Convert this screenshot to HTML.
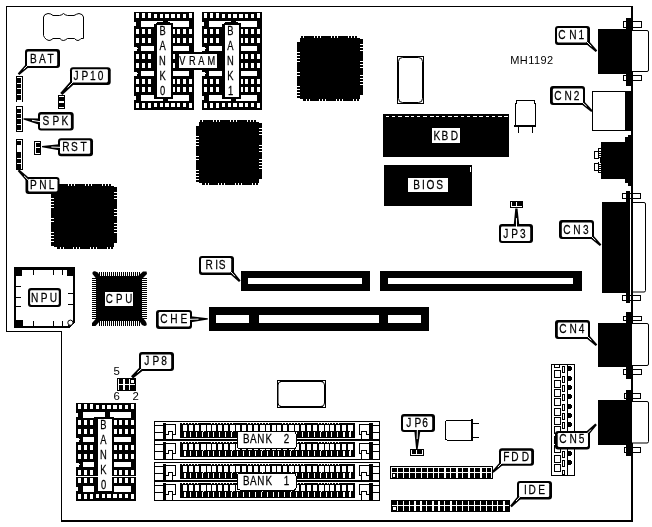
<!DOCTYPE html>
<html><head><meta charset="utf-8"><title>MH1192 motherboard layout</title>
<style>html,body{margin:0;padding:0;background:#fff}body{width:652px;height:527px;overflow:hidden}svg{display:block;will-change:transform}text{font-family:"Liberation Sans",sans-serif}</style></head><body>
<svg width="652" height="527" viewBox="0 0 652 527" shape-rendering="crispEdges">
<rect x="0" y="0" width="652" height="527" fill="#fff"/>
<rect x="6" y="6" width="627" height="1" fill="#000"/>
<rect x="6" y="6" width="1" height="326" fill="#000"/>
<rect x="6" y="331" width="56" height="1" fill="#000"/>
<rect x="61" y="331" width="1" height="191" fill="#000"/>
<rect x="61" y="520" width="572" height="2" fill="#000"/>
<rect x="631" y="6" width="2" height="516" fill="#000"/>
<path d="M43.5,17 Q44,14 48,13.5 Q51,13.5 53,15.5 L59.5,15.5 Q62,15 63.5,13.5 Q65,15 67.5,15.5 L74,15.5 Q76.5,14 79,13.5 Q83,14 83.5,17 L83.5,38.5 L81,38.5 Q79.5,40.5 78,40.5 Q76,40.5 74.5,38.5 L67.5,38.5 Q65,40.5 63.3,40.5 Q61.5,40.5 60,38.5 L53,38.5 Q51,40.5 49,40.5 Q46,40 44.5,37.5 L43.5,35.5 Z" fill="none" stroke="#000" stroke-width="1" shape-rendering="auto"/>
<rect x="16" y="76" width="7" height="26" fill="#000"/>
<rect x="21" y="77" width="1" height="24" fill="#fff"/>
<rect x="17" y="77" width="5" height="1" fill="#fff"/>
<rect x="17" y="82.5" width="5" height="1" fill="#fff"/>
<rect x="17" y="88" width="5" height="1" fill="#fff"/>
<rect x="17" y="94" width="5" height="1" fill="#fff"/>
<rect x="17" y="99.5" width="5" height="1" fill="#fff"/>
<rect x="17" y="100.5" width="5" height="1" fill="#fff"/>
<rect x="16" y="106" width="7" height="26" fill="#000"/>
<rect x="21" y="107" width="1" height="24" fill="#fff"/>
<rect x="17" y="107" width="5" height="1" fill="#fff"/>
<rect x="17" y="107.5" width="5" height="1" fill="#fff"/>
<rect x="17" y="113" width="5" height="1" fill="#fff"/>
<rect x="17" y="118" width="5" height="1" fill="#fff"/>
<rect x="17" y="124" width="5" height="1" fill="#fff"/>
<rect x="17" y="129.5" width="5" height="1" fill="#fff"/>
<rect x="17" y="130" width="5" height="1" fill="#fff"/>
<rect x="16" y="139" width="7" height="31" fill="#000"/>
<rect x="21" y="140" width="1" height="29" fill="#fff"/>
<rect x="17" y="140" width="5" height="1" fill="#fff"/>
<rect x="17" y="157.5" width="5" height="1" fill="#fff"/>
<rect x="17" y="163" width="5" height="1" fill="#fff"/>
<rect x="17" y="145" width="5" height="7.3" fill="#fff"/>
<rect x="17" y="168.8" width="5" height="0.2" fill="#fff"/>
<rect x="58" y="95" width="7" height="14" fill="#000"/>
<rect x="59" y="96" width="5" height="1" fill="#fff"/>
<rect x="59" y="101" width="5" height="2" fill="#fff"/>
<rect x="59" y="107" width="5" height="1" fill="#fff"/>
<rect x="34" y="141" width="7" height="14" fill="#000"/>
<rect x="35" y="142" width="1" height="12" fill="#fff"/>
<rect x="35" y="142" width="5" height="1" fill="#fff"/>
<rect x="35" y="147" width="5" height="1" fill="#fff"/>
<rect x="35" y="153" width="5" height="1" fill="#fff"/>
<rect x="134" y="12" width="60" height="98" fill="#000"/>
<rect x="136" y="13" width="3" height="5" fill="#fff"/>
<rect x="142" y="13" width="3" height="5" fill="#fff"/>
<rect x="148" y="13" width="3" height="5" fill="#fff"/>
<rect x="154" y="14" width="3" height="4" fill="#fff"/>
<rect x="160" y="14" width="3" height="4" fill="#fff"/>
<rect x="165" y="14" width="4" height="4" fill="#fff"/>
<rect x="171" y="14" width="4" height="4" fill="#fff"/>
<rect x="177" y="14" width="3" height="4" fill="#fff"/>
<rect x="183" y="14" width="3" height="4" fill="#fff"/>
<rect x="189" y="13" width="3" height="5" fill="#fff"/>
<rect x="136" y="29" width="3" height="5" fill="#fff"/>
<rect x="142" y="29" width="3" height="5" fill="#fff"/>
<rect x="148" y="29" width="3" height="5" fill="#fff"/>
<rect x="154" y="29" width="3" height="5" fill="#fff"/>
<rect x="160" y="29" width="3" height="5" fill="#fff"/>
<rect x="165" y="29" width="4" height="5" fill="#fff"/>
<rect x="171" y="29" width="4" height="5" fill="#fff"/>
<rect x="177" y="29" width="3" height="5" fill="#fff"/>
<rect x="183" y="29" width="3" height="5" fill="#fff"/>
<rect x="189" y="29" width="3" height="5" fill="#fff"/>
<rect x="136" y="38" width="3" height="5" fill="#fff"/>
<rect x="142" y="38" width="3" height="5" fill="#fff"/>
<rect x="148" y="38" width="3" height="5" fill="#fff"/>
<rect x="154" y="38" width="3" height="5" fill="#fff"/>
<rect x="160" y="38" width="3" height="5" fill="#fff"/>
<rect x="165" y="38" width="4" height="5" fill="#fff"/>
<rect x="171" y="38" width="4" height="5" fill="#fff"/>
<rect x="177" y="38" width="3" height="5" fill="#fff"/>
<rect x="183" y="38" width="3" height="5" fill="#fff"/>
<rect x="189" y="38" width="3" height="5" fill="#fff"/>
<rect x="136" y="54" width="3" height="5" fill="#fff"/>
<rect x="142" y="54" width="3" height="5" fill="#fff"/>
<rect x="148" y="54" width="3" height="5" fill="#fff"/>
<rect x="154" y="54" width="3" height="5" fill="#fff"/>
<rect x="160" y="54" width="3" height="5" fill="#fff"/>
<rect x="165" y="54" width="4" height="5" fill="#fff"/>
<rect x="171" y="54" width="4" height="5" fill="#fff"/>
<rect x="177" y="54" width="3" height="5" fill="#fff"/>
<rect x="183" y="54" width="3" height="5" fill="#fff"/>
<rect x="189" y="54" width="3" height="5" fill="#fff"/>
<rect x="136" y="63" width="3" height="5" fill="#fff"/>
<rect x="142" y="63" width="3" height="5" fill="#fff"/>
<rect x="148" y="63" width="3" height="5" fill="#fff"/>
<rect x="154" y="63" width="3" height="5" fill="#fff"/>
<rect x="160" y="63" width="3" height="5" fill="#fff"/>
<rect x="165" y="63" width="4" height="5" fill="#fff"/>
<rect x="171" y="63" width="4" height="5" fill="#fff"/>
<rect x="177" y="63" width="3" height="5" fill="#fff"/>
<rect x="183" y="63" width="3" height="5" fill="#fff"/>
<rect x="189" y="63" width="3" height="5" fill="#fff"/>
<rect x="136" y="79" width="3" height="5" fill="#fff"/>
<rect x="142" y="79" width="3" height="5" fill="#fff"/>
<rect x="148" y="79" width="3" height="5" fill="#fff"/>
<rect x="154" y="79" width="3" height="5" fill="#fff"/>
<rect x="160" y="79" width="3" height="5" fill="#fff"/>
<rect x="165" y="79" width="4" height="5" fill="#fff"/>
<rect x="171" y="79" width="4" height="5" fill="#fff"/>
<rect x="177" y="79" width="3" height="5" fill="#fff"/>
<rect x="183" y="79" width="3" height="5" fill="#fff"/>
<rect x="189" y="79" width="3" height="5" fill="#fff"/>
<rect x="136" y="87" width="3" height="5" fill="#fff"/>
<rect x="142" y="87" width="3" height="5" fill="#fff"/>
<rect x="148" y="87" width="3" height="5" fill="#fff"/>
<rect x="154" y="87" width="3" height="5" fill="#fff"/>
<rect x="160" y="87" width="3" height="5" fill="#fff"/>
<rect x="165" y="87" width="4" height="5" fill="#fff"/>
<rect x="171" y="87" width="4" height="5" fill="#fff"/>
<rect x="177" y="87" width="3" height="5" fill="#fff"/>
<rect x="183" y="87" width="3" height="5" fill="#fff"/>
<rect x="189" y="87" width="3" height="5" fill="#fff"/>
<rect x="136" y="103" width="3" height="5" fill="#fff"/>
<rect x="142" y="103" width="3" height="5" fill="#fff"/>
<rect x="148" y="103" width="3" height="5" fill="#fff"/>
<rect x="154" y="103" width="3" height="4" fill="#fff"/>
<rect x="160" y="103" width="3" height="4" fill="#fff"/>
<rect x="165" y="103" width="4" height="4" fill="#fff"/>
<rect x="171" y="103" width="4" height="4" fill="#fff"/>
<rect x="177" y="103" width="3" height="4" fill="#fff"/>
<rect x="183" y="103" width="3" height="4" fill="#fff"/>
<rect x="189" y="103" width="3" height="5" fill="#fff"/>
<rect x="141" y="21" width="48" height="6" fill="#fff"/>
<rect x="134" y="22" width="2" height="4" fill="#fff"/>
<rect x="141" y="46" width="48" height="5" fill="#fff"/>
<polygon points="134,46.5 136.5,46.5 137.5,48.5 136.5,50.5 134,50.5" fill="#fff"/>
<rect x="141" y="71" width="48" height="5" fill="#fff"/>
<polygon points="134,71.5 136.5,71.5 137.5,73.5 136.5,75.5 134,75.5" fill="#fff"/>
<rect x="141" y="95" width="48" height="5.6" fill="#fff"/>
<rect x="134" y="96" width="2" height="4" fill="#fff"/>
<rect x="154" y="24" width="19" height="74.5" fill="#000"/>
<rect x="155.5" y="23" width="17" height="1" fill="#000"/>
<rect x="157" y="22" width="13" height="1" fill="#000"/>
<rect x="163" y="20" width="5" height="5" fill="#000"/>
<rect x="162.7" y="97" width="5.4" height="6" fill="#000"/>
<polygon points="154,95 154,98.5 156,98.5" fill="#000" shape-rendering="auto"/>
<rect x="157" y="25" width="14" height="72" fill="#fff"/>
<text transform="scale(0.75,1)" x="216.67 216.67 216.67 216.67 216.67" y="34.9 50 65.1 80.2 95.3" font-size="12.5" fill="#000" stroke="#000" stroke-width="0.25" text-anchor="middle">BANK0</text>
<rect x="202" y="12" width="60" height="98" fill="#000"/>
<rect x="204" y="13" width="3" height="5" fill="#fff"/>
<rect x="210" y="13" width="3" height="5" fill="#fff"/>
<rect x="216" y="13" width="3" height="5" fill="#fff"/>
<rect x="222" y="14" width="3" height="4" fill="#fff"/>
<rect x="228" y="14" width="3" height="4" fill="#fff"/>
<rect x="233" y="14" width="4" height="4" fill="#fff"/>
<rect x="239" y="14" width="4" height="4" fill="#fff"/>
<rect x="245" y="14" width="3" height="4" fill="#fff"/>
<rect x="251" y="14" width="3" height="4" fill="#fff"/>
<rect x="257" y="13" width="3" height="5" fill="#fff"/>
<rect x="204" y="29" width="3" height="5" fill="#fff"/>
<rect x="210" y="29" width="3" height="5" fill="#fff"/>
<rect x="216" y="29" width="3" height="5" fill="#fff"/>
<rect x="222" y="29" width="3" height="5" fill="#fff"/>
<rect x="228" y="29" width="3" height="5" fill="#fff"/>
<rect x="233" y="29" width="4" height="5" fill="#fff"/>
<rect x="239" y="29" width="4" height="5" fill="#fff"/>
<rect x="245" y="29" width="3" height="5" fill="#fff"/>
<rect x="251" y="29" width="3" height="5" fill="#fff"/>
<rect x="257" y="29" width="3" height="5" fill="#fff"/>
<rect x="204" y="38" width="3" height="5" fill="#fff"/>
<rect x="210" y="38" width="3" height="5" fill="#fff"/>
<rect x="216" y="38" width="3" height="5" fill="#fff"/>
<rect x="222" y="38" width="3" height="5" fill="#fff"/>
<rect x="228" y="38" width="3" height="5" fill="#fff"/>
<rect x="233" y="38" width="4" height="5" fill="#fff"/>
<rect x="239" y="38" width="4" height="5" fill="#fff"/>
<rect x="245" y="38" width="3" height="5" fill="#fff"/>
<rect x="251" y="38" width="3" height="5" fill="#fff"/>
<rect x="257" y="38" width="3" height="5" fill="#fff"/>
<rect x="204" y="54" width="3" height="5" fill="#fff"/>
<rect x="210" y="54" width="3" height="5" fill="#fff"/>
<rect x="216" y="54" width="3" height="5" fill="#fff"/>
<rect x="222" y="54" width="3" height="5" fill="#fff"/>
<rect x="228" y="54" width="3" height="5" fill="#fff"/>
<rect x="233" y="54" width="4" height="5" fill="#fff"/>
<rect x="239" y="54" width="4" height="5" fill="#fff"/>
<rect x="245" y="54" width="3" height="5" fill="#fff"/>
<rect x="251" y="54" width="3" height="5" fill="#fff"/>
<rect x="257" y="54" width="3" height="5" fill="#fff"/>
<rect x="204" y="63" width="3" height="5" fill="#fff"/>
<rect x="210" y="63" width="3" height="5" fill="#fff"/>
<rect x="216" y="63" width="3" height="5" fill="#fff"/>
<rect x="222" y="63" width="3" height="5" fill="#fff"/>
<rect x="228" y="63" width="3" height="5" fill="#fff"/>
<rect x="233" y="63" width="4" height="5" fill="#fff"/>
<rect x="239" y="63" width="4" height="5" fill="#fff"/>
<rect x="245" y="63" width="3" height="5" fill="#fff"/>
<rect x="251" y="63" width="3" height="5" fill="#fff"/>
<rect x="257" y="63" width="3" height="5" fill="#fff"/>
<rect x="204" y="79" width="3" height="5" fill="#fff"/>
<rect x="210" y="79" width="3" height="5" fill="#fff"/>
<rect x="216" y="79" width="3" height="5" fill="#fff"/>
<rect x="222" y="79" width="3" height="5" fill="#fff"/>
<rect x="228" y="79" width="3" height="5" fill="#fff"/>
<rect x="233" y="79" width="4" height="5" fill="#fff"/>
<rect x="239" y="79" width="4" height="5" fill="#fff"/>
<rect x="245" y="79" width="3" height="5" fill="#fff"/>
<rect x="251" y="79" width="3" height="5" fill="#fff"/>
<rect x="257" y="79" width="3" height="5" fill="#fff"/>
<rect x="204" y="87" width="3" height="5" fill="#fff"/>
<rect x="210" y="87" width="3" height="5" fill="#fff"/>
<rect x="216" y="87" width="3" height="5" fill="#fff"/>
<rect x="222" y="87" width="3" height="5" fill="#fff"/>
<rect x="228" y="87" width="3" height="5" fill="#fff"/>
<rect x="233" y="87" width="4" height="5" fill="#fff"/>
<rect x="239" y="87" width="4" height="5" fill="#fff"/>
<rect x="245" y="87" width="3" height="5" fill="#fff"/>
<rect x="251" y="87" width="3" height="5" fill="#fff"/>
<rect x="257" y="87" width="3" height="5" fill="#fff"/>
<rect x="204" y="103" width="3" height="5" fill="#fff"/>
<rect x="210" y="103" width="3" height="5" fill="#fff"/>
<rect x="216" y="103" width="3" height="5" fill="#fff"/>
<rect x="222" y="103" width="3" height="4" fill="#fff"/>
<rect x="228" y="103" width="3" height="4" fill="#fff"/>
<rect x="233" y="103" width="4" height="4" fill="#fff"/>
<rect x="239" y="103" width="4" height="4" fill="#fff"/>
<rect x="245" y="103" width="3" height="4" fill="#fff"/>
<rect x="251" y="103" width="3" height="4" fill="#fff"/>
<rect x="257" y="103" width="3" height="5" fill="#fff"/>
<rect x="209" y="21" width="48" height="6" fill="#fff"/>
<rect x="202" y="22" width="2" height="4" fill="#fff"/>
<rect x="209" y="46" width="48" height="5" fill="#fff"/>
<polygon points="202,46.5 204.5,46.5 205.5,48.5 204.5,50.5 202,50.5" fill="#fff"/>
<rect x="209" y="71" width="48" height="5" fill="#fff"/>
<polygon points="202,71.5 204.5,71.5 205.5,73.5 204.5,75.5 202,75.5" fill="#fff"/>
<rect x="209" y="95" width="48" height="5.6" fill="#fff"/>
<rect x="202" y="96" width="2" height="4" fill="#fff"/>
<rect x="222" y="24" width="19" height="74.5" fill="#000"/>
<rect x="223.5" y="23" width="17" height="1" fill="#000"/>
<rect x="225" y="22" width="13" height="1" fill="#000"/>
<rect x="231" y="20" width="5" height="5" fill="#000"/>
<rect x="230.7" y="97" width="5.4" height="6" fill="#000"/>
<polygon points="222,95 222,98.5 224,98.5" fill="#000" shape-rendering="auto"/>
<rect x="225" y="25" width="14" height="72" fill="#fff"/>
<text transform="scale(0.75,1)" x="307.33 307.33 307.33 307.33 307.33" y="34.9 50 65.1 80.2 95.3" font-size="12.5" fill="#000" stroke="#000" stroke-width="0.25" text-anchor="middle">BANK1</text>
<rect x="189" y="52" width="18" height="18" fill="#000"/>
<rect x="177" y="54" width="43" height="14" fill="#000"/>
<rect x="179" y="54" width="38" height="14" fill="#fff"/>
<polygon points="202,46.5 204.5,46.5 205.5,48.5 204.5,50.5 202,50.5" fill="#fff"/>
<polygon points="202,71.5 204.5,71.5 205.5,73.5 204.5,75.5 202,75.5" fill="#fff"/>
<text transform="scale(0.74,1)" x="246.49 260.00 272.16 285.54" y="65" font-size="12.5" fill="#000" stroke="#000" stroke-width="0.25" text-anchor="middle">VRAM</text>
<rect x="76" y="403" width="60" height="98" fill="#000"/>
<rect x="78" y="404" width="3" height="5" fill="#fff"/>
<rect x="84" y="404" width="3" height="5" fill="#fff"/>
<rect x="90" y="404" width="3" height="5" fill="#fff"/>
<rect x="96" y="405" width="3" height="4" fill="#fff"/>
<rect x="102" y="405" width="3" height="4" fill="#fff"/>
<rect x="107" y="405" width="4" height="4" fill="#fff"/>
<rect x="113" y="405" width="4" height="4" fill="#fff"/>
<rect x="119" y="405" width="3" height="4" fill="#fff"/>
<rect x="125" y="405" width="3" height="4" fill="#fff"/>
<rect x="131" y="404" width="3" height="5" fill="#fff"/>
<rect x="78" y="420" width="3" height="5" fill="#fff"/>
<rect x="84" y="420" width="3" height="5" fill="#fff"/>
<rect x="90" y="420" width="3" height="5" fill="#fff"/>
<rect x="96" y="420" width="3" height="5" fill="#fff"/>
<rect x="102" y="420" width="3" height="5" fill="#fff"/>
<rect x="107" y="420" width="4" height="5" fill="#fff"/>
<rect x="113" y="420" width="4" height="5" fill="#fff"/>
<rect x="119" y="420" width="3" height="5" fill="#fff"/>
<rect x="125" y="420" width="3" height="5" fill="#fff"/>
<rect x="131" y="420" width="3" height="5" fill="#fff"/>
<rect x="78" y="429" width="3" height="5" fill="#fff"/>
<rect x="84" y="429" width="3" height="5" fill="#fff"/>
<rect x="90" y="429" width="3" height="5" fill="#fff"/>
<rect x="96" y="429" width="3" height="5" fill="#fff"/>
<rect x="102" y="429" width="3" height="5" fill="#fff"/>
<rect x="107" y="429" width="4" height="5" fill="#fff"/>
<rect x="113" y="429" width="4" height="5" fill="#fff"/>
<rect x="119" y="429" width="3" height="5" fill="#fff"/>
<rect x="125" y="429" width="3" height="5" fill="#fff"/>
<rect x="131" y="429" width="3" height="5" fill="#fff"/>
<rect x="78" y="445" width="3" height="5" fill="#fff"/>
<rect x="84" y="445" width="3" height="5" fill="#fff"/>
<rect x="90" y="445" width="3" height="5" fill="#fff"/>
<rect x="96" y="445" width="3" height="5" fill="#fff"/>
<rect x="102" y="445" width="3" height="5" fill="#fff"/>
<rect x="107" y="445" width="4" height="5" fill="#fff"/>
<rect x="113" y="445" width="4" height="5" fill="#fff"/>
<rect x="119" y="445" width="3" height="5" fill="#fff"/>
<rect x="125" y="445" width="3" height="5" fill="#fff"/>
<rect x="131" y="445" width="3" height="5" fill="#fff"/>
<rect x="78" y="454" width="3" height="5" fill="#fff"/>
<rect x="84" y="454" width="3" height="5" fill="#fff"/>
<rect x="90" y="454" width="3" height="5" fill="#fff"/>
<rect x="96" y="454" width="3" height="5" fill="#fff"/>
<rect x="102" y="454" width="3" height="5" fill="#fff"/>
<rect x="107" y="454" width="4" height="5" fill="#fff"/>
<rect x="113" y="454" width="4" height="5" fill="#fff"/>
<rect x="119" y="454" width="3" height="5" fill="#fff"/>
<rect x="125" y="454" width="3" height="5" fill="#fff"/>
<rect x="131" y="454" width="3" height="5" fill="#fff"/>
<rect x="78" y="470" width="3" height="5" fill="#fff"/>
<rect x="84" y="470" width="3" height="5" fill="#fff"/>
<rect x="90" y="470" width="3" height="5" fill="#fff"/>
<rect x="96" y="470" width="3" height="5" fill="#fff"/>
<rect x="102" y="470" width="3" height="5" fill="#fff"/>
<rect x="107" y="470" width="4" height="5" fill="#fff"/>
<rect x="113" y="470" width="4" height="5" fill="#fff"/>
<rect x="119" y="470" width="3" height="5" fill="#fff"/>
<rect x="125" y="470" width="3" height="5" fill="#fff"/>
<rect x="131" y="470" width="3" height="5" fill="#fff"/>
<rect x="78" y="478" width="3" height="5" fill="#fff"/>
<rect x="84" y="478" width="3" height="5" fill="#fff"/>
<rect x="90" y="478" width="3" height="5" fill="#fff"/>
<rect x="96" y="478" width="3" height="5" fill="#fff"/>
<rect x="102" y="478" width="3" height="5" fill="#fff"/>
<rect x="107" y="478" width="4" height="5" fill="#fff"/>
<rect x="113" y="478" width="4" height="5" fill="#fff"/>
<rect x="119" y="478" width="3" height="5" fill="#fff"/>
<rect x="125" y="478" width="3" height="5" fill="#fff"/>
<rect x="131" y="478" width="3" height="5" fill="#fff"/>
<rect x="78" y="494" width="3" height="5" fill="#fff"/>
<rect x="84" y="494" width="3" height="5" fill="#fff"/>
<rect x="90" y="494" width="3" height="5" fill="#fff"/>
<rect x="96" y="494" width="3" height="4" fill="#fff"/>
<rect x="102" y="494" width="3" height="4" fill="#fff"/>
<rect x="107" y="494" width="4" height="4" fill="#fff"/>
<rect x="113" y="494" width="4" height="4" fill="#fff"/>
<rect x="119" y="494" width="3" height="4" fill="#fff"/>
<rect x="125" y="494" width="3" height="4" fill="#fff"/>
<rect x="131" y="494" width="3" height="5" fill="#fff"/>
<rect x="83" y="412" width="48" height="6" fill="#fff"/>
<rect x="76" y="413" width="2" height="4" fill="#fff"/>
<rect x="83" y="437" width="48" height="5" fill="#fff"/>
<polygon points="76,437.5 78.5,437.5 79.5,439.5 78.5,441.5 76,441.5" fill="#fff"/>
<rect x="83" y="462" width="48" height="5" fill="#fff"/>
<polygon points="76,462.5 78.5,462.5 79.5,464.5 78.5,466.5 76,466.5" fill="#fff"/>
<rect x="83" y="486" width="48" height="5.6" fill="#fff"/>
<rect x="76" y="487" width="2" height="4" fill="#fff"/>
<rect x="94" y="417" width="20" height="76" fill="#000"/>
<rect x="105" y="411" width="5" height="8" fill="#000"/>
<rect x="98" y="419" width="14" height="72" fill="#fff"/>
<text transform="scale(0.75,1)" x="138.00 138.00 138.00 138.00 138.00" y="429 444.1 458.9 473.7 489" font-size="12.5" fill="#000" stroke="#000" stroke-width="0.25" text-anchor="middle">BANK0</text>
<rect x="76" y="476" width="22" height="1" fill="#fff"/>
<rect x="112" y="476" width="24" height="1" fill="#fff"/>
<rect x="300" y="38" width="60" height="61" fill="#000"/>
<rect x="301" y="36" width="56" height="2" fill="#000"/>
<rect x="303" y="99" width="56" height="2" fill="#000"/>
<rect x="297" y="42" width="3" height="56" fill="#000"/>
<rect x="360" y="39" width="3" height="56" fill="#000"/>
<rect x="303" y="36" width="1" height="2" fill="#fff"/>
<rect x="314" y="36" width="1" height="2" fill="#fff"/>
<rect x="317" y="36" width="1" height="2" fill="#fff"/>
<rect x="320" y="36" width="1" height="2" fill="#fff"/>
<rect x="331" y="36" width="1" height="2" fill="#fff"/>
<rect x="334" y="36" width="1" height="2" fill="#fff"/>
<rect x="337" y="36" width="1" height="2" fill="#fff"/>
<rect x="348" y="36" width="1" height="2" fill="#fff"/>
<rect x="351" y="36" width="1" height="2" fill="#fff"/>
<rect x="354" y="36" width="1" height="2" fill="#fff"/>
<rect x="306" y="99" width="1" height="2" fill="#fff"/>
<rect x="309" y="99" width="1" height="2" fill="#fff"/>
<rect x="319" y="99" width="1" height="2" fill="#fff"/>
<rect x="322" y="99" width="1" height="2" fill="#fff"/>
<rect x="325" y="99" width="1" height="2" fill="#fff"/>
<rect x="336" y="99" width="1" height="2" fill="#fff"/>
<rect x="339" y="99" width="1" height="2" fill="#fff"/>
<rect x="342" y="99" width="1" height="2" fill="#fff"/>
<rect x="353" y="99" width="1" height="2" fill="#fff"/>
<rect x="356" y="99" width="1" height="2" fill="#fff"/>
<rect x="297" y="52" width="3" height="1" fill="#fff"/>
<rect x="297" y="55" width="3" height="1" fill="#fff"/>
<rect x="297" y="58" width="3" height="1" fill="#fff"/>
<rect x="297" y="61" width="3" height="1" fill="#fff"/>
<rect x="297" y="72" width="3" height="1" fill="#fff"/>
<rect x="297" y="75" width="3" height="1" fill="#fff"/>
<rect x="297" y="86" width="3" height="1" fill="#fff"/>
<rect x="297" y="89" width="3" height="1" fill="#fff"/>
<rect x="297" y="92" width="3" height="1" fill="#fff"/>
<rect x="297" y="95" width="3" height="1" fill="#fff"/>
<rect x="360" y="44" width="3" height="1" fill="#fff"/>
<rect x="360" y="47" width="3" height="1" fill="#fff"/>
<rect x="360" y="50" width="3" height="1" fill="#fff"/>
<rect x="360" y="61" width="3" height="1" fill="#fff"/>
<rect x="360" y="64" width="3" height="1" fill="#fff"/>
<rect x="360" y="67" width="3" height="1" fill="#fff"/>
<rect x="360" y="75" width="3" height="1" fill="#fff"/>
<rect x="360" y="78" width="3" height="1" fill="#fff"/>
<rect x="360" y="81" width="3" height="1" fill="#fff"/>
<rect x="360" y="84" width="3" height="1" fill="#fff"/>
<rect x="199" y="122" width="60" height="61" fill="#000"/>
<rect x="200" y="120" width="56" height="2" fill="#000"/>
<rect x="202" y="183" width="56" height="2" fill="#000"/>
<rect x="196" y="126" width="3" height="56" fill="#000"/>
<rect x="259" y="123" width="3" height="56" fill="#000"/>
<rect x="202" y="120" width="1" height="2" fill="#fff"/>
<rect x="213" y="120" width="1" height="2" fill="#fff"/>
<rect x="216" y="120" width="1" height="2" fill="#fff"/>
<rect x="219" y="120" width="1" height="2" fill="#fff"/>
<rect x="230" y="120" width="1" height="2" fill="#fff"/>
<rect x="233" y="120" width="1" height="2" fill="#fff"/>
<rect x="236" y="120" width="1" height="2" fill="#fff"/>
<rect x="247" y="120" width="1" height="2" fill="#fff"/>
<rect x="250" y="120" width="1" height="2" fill="#fff"/>
<rect x="253" y="120" width="1" height="2" fill="#fff"/>
<rect x="205" y="183" width="1" height="2" fill="#fff"/>
<rect x="208" y="183" width="1" height="2" fill="#fff"/>
<rect x="218" y="183" width="1" height="2" fill="#fff"/>
<rect x="221" y="183" width="1" height="2" fill="#fff"/>
<rect x="224" y="183" width="1" height="2" fill="#fff"/>
<rect x="235" y="183" width="1" height="2" fill="#fff"/>
<rect x="238" y="183" width="1" height="2" fill="#fff"/>
<rect x="241" y="183" width="1" height="2" fill="#fff"/>
<rect x="252" y="183" width="1" height="2" fill="#fff"/>
<rect x="255" y="183" width="1" height="2" fill="#fff"/>
<rect x="196" y="136" width="3" height="1" fill="#fff"/>
<rect x="196" y="139" width="3" height="1" fill="#fff"/>
<rect x="196" y="142" width="3" height="1" fill="#fff"/>
<rect x="196" y="145" width="3" height="1" fill="#fff"/>
<rect x="196" y="156" width="3" height="1" fill="#fff"/>
<rect x="196" y="159" width="3" height="1" fill="#fff"/>
<rect x="196" y="170" width="3" height="1" fill="#fff"/>
<rect x="196" y="173" width="3" height="1" fill="#fff"/>
<rect x="196" y="176" width="3" height="1" fill="#fff"/>
<rect x="196" y="179" width="3" height="1" fill="#fff"/>
<rect x="259" y="128" width="3" height="1" fill="#fff"/>
<rect x="259" y="131" width="3" height="1" fill="#fff"/>
<rect x="259" y="134" width="3" height="1" fill="#fff"/>
<rect x="259" y="145" width="3" height="1" fill="#fff"/>
<rect x="259" y="148" width="3" height="1" fill="#fff"/>
<rect x="259" y="151" width="3" height="1" fill="#fff"/>
<rect x="259" y="159" width="3" height="1" fill="#fff"/>
<rect x="259" y="162" width="3" height="1" fill="#fff"/>
<rect x="259" y="165" width="3" height="1" fill="#fff"/>
<rect x="259" y="168" width="3" height="1" fill="#fff"/>
<rect x="54" y="186" width="60" height="61" fill="#000"/>
<rect x="55" y="184" width="56" height="2" fill="#000"/>
<rect x="57" y="247" width="56" height="2" fill="#000"/>
<rect x="51" y="190" width="3" height="56" fill="#000"/>
<rect x="114" y="187" width="3" height="56" fill="#000"/>
<rect x="57" y="184" width="1" height="2" fill="#fff"/>
<rect x="68" y="184" width="1" height="2" fill="#fff"/>
<rect x="71" y="184" width="1" height="2" fill="#fff"/>
<rect x="74" y="184" width="1" height="2" fill="#fff"/>
<rect x="85" y="184" width="1" height="2" fill="#fff"/>
<rect x="88" y="184" width="1" height="2" fill="#fff"/>
<rect x="91" y="184" width="1" height="2" fill="#fff"/>
<rect x="102" y="184" width="1" height="2" fill="#fff"/>
<rect x="105" y="184" width="1" height="2" fill="#fff"/>
<rect x="108" y="184" width="1" height="2" fill="#fff"/>
<rect x="60" y="247" width="1" height="2" fill="#fff"/>
<rect x="63" y="247" width="1" height="2" fill="#fff"/>
<rect x="73" y="247" width="1" height="2" fill="#fff"/>
<rect x="76" y="247" width="1" height="2" fill="#fff"/>
<rect x="79" y="247" width="1" height="2" fill="#fff"/>
<rect x="90" y="247" width="1" height="2" fill="#fff"/>
<rect x="93" y="247" width="1" height="2" fill="#fff"/>
<rect x="96" y="247" width="1" height="2" fill="#fff"/>
<rect x="107" y="247" width="1" height="2" fill="#fff"/>
<rect x="110" y="247" width="1" height="2" fill="#fff"/>
<rect x="51" y="198" width="3" height="1" fill="#fff"/>
<rect x="51" y="201" width="3" height="1" fill="#fff"/>
<rect x="51" y="204" width="3" height="1" fill="#fff"/>
<rect x="51" y="207" width="3" height="1" fill="#fff"/>
<rect x="51" y="218" width="3" height="1" fill="#fff"/>
<rect x="51" y="221" width="3" height="1" fill="#fff"/>
<rect x="51" y="232" width="3" height="1" fill="#fff"/>
<rect x="51" y="235" width="3" height="1" fill="#fff"/>
<rect x="51" y="238" width="3" height="1" fill="#fff"/>
<rect x="51" y="241" width="3" height="1" fill="#fff"/>
<rect x="114" y="192" width="3" height="1" fill="#fff"/>
<rect x="114" y="195" width="3" height="1" fill="#fff"/>
<rect x="114" y="198" width="3" height="1" fill="#fff"/>
<rect x="114" y="209" width="3" height="1" fill="#fff"/>
<rect x="114" y="212" width="3" height="1" fill="#fff"/>
<rect x="114" y="215" width="3" height="1" fill="#fff"/>
<rect x="114" y="223" width="3" height="1" fill="#fff"/>
<rect x="114" y="226" width="3" height="1" fill="#fff"/>
<rect x="114" y="229" width="3" height="1" fill="#fff"/>
<rect x="114" y="232" width="3" height="1" fill="#fff"/>
<rect x="14" y="267" width="61" height="61" fill="#000"/>
<polygon points="16,270 72.5,270 72.5,321 68,325.5 16,325.5" fill="#fff"/>
<rect x="14" y="267" width="8" height="8.5" fill="#000"/>
<rect x="67" y="267" width="8" height="9" fill="#000"/>
<rect x="14" y="320" width="9" height="8" fill="#000"/>
<polygon points="75,322 75,328 69,328" fill="#fff"/>
<polygon points="72.5,321 75,322 70,328 68,325.5" fill="#000"/>
<circle cx="70.4" cy="322.7" r="2.6" fill="#fff" stroke="#000" stroke-width="1" shape-rendering="auto"/>
<rect x="33" y="270" width="1" height="4.5" fill="#000"/>
<rect x="33" y="321" width="1" height="4.5" fill="#000"/>
<rect x="53" y="270" width="1" height="4.5" fill="#000"/>
<rect x="53" y="321" width="1" height="4.5" fill="#000"/>
<rect x="62" y="270" width="1" height="4.5" fill="#000"/>
<rect x="62" y="321" width="1" height="4.5" fill="#000"/>
<rect x="16" y="286" width="5" height="1" fill="#000"/>
<rect x="16" y="297" width="5" height="1" fill="#000"/>
<rect x="16" y="306" width="5" height="1" fill="#000"/>
<rect x="68" y="293" width="4.5" height="1" fill="#000"/>
<rect x="68" y="304" width="4.5" height="1" fill="#000"/>
<rect x="28" y="288" width="33" height="19" rx="3" fill="#000" shape-rendering="auto"/>
<rect x="30.1" y="290.2" width="28.7" height="14.7" rx="1.3" fill="#fff" shape-rendering="auto"/>
<text transform="scale(0.78,1)" x="44.36 56.67 68.59" y="301.6" font-size="13" fill="#000" stroke="#000" stroke-width="0.25" text-anchor="middle">NPU</text>
<rect x="96" y="276" width="46" height="45" fill="#000"/>
<rect x="99" y="272" width="1" height="4" fill="#000"/>
<rect x="99" y="321" width="1" height="4.5" fill="#000"/>
<rect x="101" y="272" width="1" height="4" fill="#000"/>
<rect x="101" y="321" width="1" height="4.5" fill="#000"/>
<rect x="103" y="272" width="1" height="4" fill="#000"/>
<rect x="103" y="321" width="1" height="4.5" fill="#000"/>
<rect x="105" y="272" width="1" height="4" fill="#000"/>
<rect x="105" y="321" width="1" height="4.5" fill="#000"/>
<rect x="107" y="272" width="1" height="4" fill="#000"/>
<rect x="107" y="321" width="1" height="4.5" fill="#000"/>
<rect x="109" y="272" width="1" height="4" fill="#000"/>
<rect x="109" y="321" width="1" height="4.5" fill="#000"/>
<rect x="111" y="272" width="1" height="4" fill="#000"/>
<rect x="111" y="321" width="1" height="4.5" fill="#000"/>
<rect x="113" y="272" width="1" height="4" fill="#000"/>
<rect x="113" y="321" width="1" height="4.5" fill="#000"/>
<rect x="115" y="272" width="1" height="4" fill="#000"/>
<rect x="115" y="321" width="1" height="4.5" fill="#000"/>
<rect x="117" y="272" width="1" height="4" fill="#000"/>
<rect x="117" y="321" width="1" height="4.5" fill="#000"/>
<rect x="119" y="272" width="1" height="4" fill="#000"/>
<rect x="119" y="321" width="1" height="4.5" fill="#000"/>
<rect x="121" y="272" width="1" height="4" fill="#000"/>
<rect x="121" y="321" width="1" height="4.5" fill="#000"/>
<rect x="123" y="272" width="1" height="4" fill="#000"/>
<rect x="123" y="321" width="1" height="4.5" fill="#000"/>
<rect x="125" y="272" width="1" height="4" fill="#000"/>
<rect x="125" y="321" width="1" height="4.5" fill="#000"/>
<rect x="127" y="272" width="1" height="4" fill="#000"/>
<rect x="127" y="321" width="1" height="4.5" fill="#000"/>
<rect x="129" y="272" width="1" height="4" fill="#000"/>
<rect x="129" y="321" width="1" height="4.5" fill="#000"/>
<rect x="131" y="272" width="1" height="4" fill="#000"/>
<rect x="131" y="321" width="1" height="4.5" fill="#000"/>
<rect x="133" y="272" width="1" height="4" fill="#000"/>
<rect x="133" y="321" width="1" height="4.5" fill="#000"/>
<rect x="135" y="272" width="1" height="4" fill="#000"/>
<rect x="135" y="321" width="1" height="4.5" fill="#000"/>
<rect x="137" y="272" width="1" height="4" fill="#000"/>
<rect x="137" y="321" width="1" height="4.5" fill="#000"/>
<rect x="139" y="272" width="1" height="4" fill="#000"/>
<rect x="139" y="321" width="1" height="4.5" fill="#000"/>
<rect x="92" y="278" width="4" height="1" fill="#000"/>
<rect x="142" y="278" width="5" height="1" fill="#000"/>
<rect x="92" y="280" width="4" height="1" fill="#000"/>
<rect x="142" y="280" width="5" height="1" fill="#000"/>
<rect x="92" y="282" width="4" height="1" fill="#000"/>
<rect x="142" y="282" width="5" height="1" fill="#000"/>
<rect x="92" y="284" width="4" height="1" fill="#000"/>
<rect x="142" y="284" width="5" height="1" fill="#000"/>
<rect x="92" y="286" width="4" height="1" fill="#000"/>
<rect x="142" y="286" width="5" height="1" fill="#000"/>
<rect x="92" y="288" width="4" height="1" fill="#000"/>
<rect x="142" y="288" width="5" height="1" fill="#000"/>
<rect x="92" y="290" width="4" height="1" fill="#000"/>
<rect x="142" y="290" width="5" height="1" fill="#000"/>
<rect x="92" y="292" width="4" height="1" fill="#000"/>
<rect x="142" y="292" width="5" height="1" fill="#000"/>
<rect x="92" y="294" width="4" height="1" fill="#000"/>
<rect x="142" y="294" width="5" height="1" fill="#000"/>
<rect x="92" y="296" width="4" height="1" fill="#000"/>
<rect x="142" y="296" width="5" height="1" fill="#000"/>
<rect x="92" y="298" width="4" height="1" fill="#000"/>
<rect x="142" y="298" width="5" height="1" fill="#000"/>
<rect x="92" y="300" width="4" height="1" fill="#000"/>
<rect x="142" y="300" width="5" height="1" fill="#000"/>
<rect x="92" y="302" width="4" height="1" fill="#000"/>
<rect x="142" y="302" width="5" height="1" fill="#000"/>
<rect x="92" y="304" width="4" height="1" fill="#000"/>
<rect x="142" y="304" width="5" height="1" fill="#000"/>
<rect x="92" y="306" width="4" height="1" fill="#000"/>
<rect x="142" y="306" width="5" height="1" fill="#000"/>
<rect x="92" y="308" width="4" height="1" fill="#000"/>
<rect x="142" y="308" width="5" height="1" fill="#000"/>
<rect x="92" y="310" width="4" height="1" fill="#000"/>
<rect x="142" y="310" width="5" height="1" fill="#000"/>
<rect x="92" y="312" width="4" height="1" fill="#000"/>
<rect x="142" y="312" width="5" height="1" fill="#000"/>
<rect x="92" y="314" width="4" height="1" fill="#000"/>
<rect x="142" y="314" width="5" height="1" fill="#000"/>
<rect x="92" y="316" width="4" height="1" fill="#000"/>
<rect x="142" y="316" width="5" height="1" fill="#000"/>
<rect x="92" y="318" width="4" height="1" fill="#000"/>
<rect x="142" y="318" width="5" height="1" fill="#000"/>
<g shape-rendering="auto">
<path d="M92.5,274 Q92,271 95,271.3 L98,272.5 L101,278 L98,281 L94.5,276.5 Z" fill="#000"/>
<polygon points="146.5,271.5 147,274 141,280 137,277 143,271.5" fill="#000"/>
<polygon points="92,323 97.5,317 101,320 95.5,326 92,326" fill="#000"/>
<path d="M146.5,323 Q147.5,326 144.5,326 L142,325 L138,319 L141,316 L145.5,321 Z" fill="#000"/>
</g>
<rect x="105" y="292" width="28" height="14" fill="#fff"/>
<text transform="scale(0.78,1)" x="140.00 152.82 165.00" y="302.7" font-size="12.5" fill="#000" stroke="#000" stroke-width="0.25" text-anchor="middle">CPU</text>
<rect x="397.5" y="56.5" width="26" height="47" fill="#fff" stroke="#000" stroke-width="1"/>
<rect x="398.5" y="57.5" width="24" height="45" rx="4" fill="none" stroke="#000" stroke-width="1" shape-rendering="auto"/>
<rect x="277.5" y="380.5" width="48" height="27" fill="#fff" stroke="#000" stroke-width="1"/>
<rect x="278" y="381.5" width="46.5" height="25" rx="3.5" fill="none" stroke="#000" stroke-width="1" shape-rendering="auto"/>
<rect x="280" y="380" width="43" height="2" fill="#000"/>
<rect x="280" y="406" width="43" height="2" fill="#000"/>
<path d="M515.5,125 L515.5,103 L516.5,103 L516.5,100.5 L534.5,100.5 L534.5,103 L535.5,103 L535.5,125" fill="none" stroke="#000" stroke-width="1"/>
<rect x="514" y="125" width="22" height="2" fill="#000"/>
<rect x="518" y="127" width="1" height="6" fill="#000"/>
<rect x="532" y="127" width="1" height="6" fill="#000"/>
<path d="M471,420.5 L447,420.5 Q445.5,420.5 445.5,422 L445.5,438.5 Q445.5,440 447,440 L471,440" fill="none" stroke="#000" stroke-width="1"/>
<rect x="471" y="419" width="2" height="22" fill="#000"/>
<rect x="473" y="423" width="6" height="1" fill="#000"/>
<rect x="473" y="437" width="6" height="1" fill="#000"/>
<text x="510.3" y="63.8" font-size="11" letter-spacing="0.4">MH1192</text>
<rect x="383" y="114" width="126" height="43" fill="#000"/>
<rect x="386" y="116" width="3" height="1" fill="#fff"/>
<rect x="392" y="116" width="3" height="1" fill="#fff"/>
<rect x="398" y="116" width="4" height="1" fill="#fff"/>
<rect x="405" y="116" width="4" height="1" fill="#fff"/>
<rect x="411" y="116" width="3" height="1" fill="#fff"/>
<rect x="417" y="116" width="3" height="1" fill="#fff"/>
<rect x="423" y="116" width="4" height="1" fill="#fff"/>
<rect x="430" y="116" width="4" height="1" fill="#fff"/>
<rect x="436" y="116" width="3" height="1" fill="#fff"/>
<rect x="442" y="116" width="3" height="1" fill="#fff"/>
<rect x="448" y="116" width="4" height="1" fill="#fff"/>
<rect x="454" y="116" width="4" height="1" fill="#fff"/>
<rect x="461" y="116" width="3" height="1" fill="#fff"/>
<rect x="467" y="116" width="3" height="1" fill="#fff"/>
<rect x="473" y="116" width="4" height="1" fill="#fff"/>
<rect x="479" y="116" width="4" height="1" fill="#fff"/>
<rect x="486" y="116" width="3" height="1" fill="#fff"/>
<rect x="492" y="116" width="3" height="1" fill="#fff"/>
<rect x="498" y="116" width="4" height="1" fill="#fff"/>
<rect x="504" y="116" width="4" height="1" fill="#fff"/>
<rect x="432" y="128" width="28" height="15" fill="#fff" rx="1.5"/>
<text transform="scale(0.78,1)" x="560.26 570.26 582.44" y="139.7" font-size="13" fill="#000" stroke="#000" stroke-width="0.25" text-anchor="middle">KBD</text>
<rect x="384" y="165" width="88" height="41" fill="#000"/>
<rect x="470" y="167" width="1" height="5" fill="#fff"/>
<rect x="408" y="178" width="40" height="14" fill="#fff"/>
<text transform="scale(0.78,1)" x="534.23 542.82 551.79 563.59" y="189.5" font-size="13" fill="#000" stroke="#000" stroke-width="0.25" text-anchor="middle">BIOS</text>
<rect x="510" y="201" width="13" height="7" fill="#000"/>
<rect x="511" y="202" width="1" height="5" fill="#fff"/>
<rect x="516" y="202" width="1" height="4" fill="#fff"/>
<rect x="511" y="206" width="11" height="1" fill="#fff"/>
<polygon points="519.40,225.98 513.60,226.02 515.30,208.51 517.50,208.49" fill="#000" shape-rendering="auto"/>
<rect x="499" y="224" width="34" height="19" rx="3" fill="#000" shape-rendering="auto"/>
<rect x="501" y="226.6" width="29.2" height="14.4" rx="1.3" fill="#fff" shape-rendering="auto"/>
<line x1="516.52" y1="229.00" x2="516.46" y2="218.12" stroke="#fff" stroke-width="1" shape-rendering="auto"/>
<text transform="scale(0.78,1)" x="648.59 659.87 670.26" y="237.6" font-size="13" fill="#000" stroke="#000" stroke-width="0.25" text-anchor="middle">JP3</text>
<rect x="623.5" y="21.5" width="18" height="6" fill="#fff" stroke="#000" stroke-width="1"/>
<rect x="623.5" y="75.5" width="18" height="5" fill="#fff" stroke="#000" stroke-width="1"/>
<rect x="631" y="18" width="2" height="68" fill="#000"/>
<rect x="626" y="18" width="7" height="68" fill="#000"/>
<rect x="598" y="29" width="35" height="45" fill="#000"/>
<path d="M632,30.5 L647,30.5 Q648.5,30.5 648.5,32 L648.5,70 Q648.5,71.5 647,71.5 L632,71.5" fill="#fff" stroke="#000" stroke-width="1" shape-rendering="auto"/>
<rect x="622.5" y="193.5" width="18" height="5" fill="#fff" stroke="#000" stroke-width="1"/>
<rect x="622.5" y="295" width="18" height="5.5" fill="#fff" stroke="#000" stroke-width="1"/>
<rect x="631" y="191" width="2" height="111.5" fill="#000"/>
<rect x="626" y="191" width="4" height="111.5" fill="#000"/>
<rect x="602" y="202" width="28" height="91" fill="#000"/>
<path d="M633,202.5 L644,202.5 Q645.5,202.5 645.5,204 L645.5,290.5 Q645.5,292.0 644,292.0 L633,292.0" fill="#fff" stroke="#000" stroke-width="1" shape-rendering="auto"/>
<rect x="623.5" y="316" width="18" height="4.5" fill="#fff" stroke="#000" stroke-width="1"/>
<rect x="623.5" y="369.5" width="18" height="5" fill="#fff" stroke="#000" stroke-width="1"/>
<rect x="631" y="312" width="2" height="66.5" fill="#000"/>
<rect x="626" y="312" width="7" height="66.5" fill="#000"/>
<rect x="598" y="323" width="35" height="44" fill="#000"/>
<path d="M632,323.5 L647,323.5 Q648.5,323.5 648.5,325 L648.5,364 Q648.5,365.5 647,365.5 L632,365.5" fill="#fff" stroke="#000" stroke-width="1" shape-rendering="auto"/>
<rect x="624.5" y="393.5" width="16" height="5" fill="#fff" stroke="#000" stroke-width="1"/>
<rect x="624.5" y="447.5" width="16" height="5" fill="#fff" stroke="#000" stroke-width="1"/>
<rect x="631" y="390" width="2" height="66" fill="#000"/>
<rect x="626" y="390" width="7" height="66" fill="#000"/>
<rect x="598" y="400" width="35" height="44.5" fill="#000"/>
<path d="M632,401.5 L647,401.5 Q648.5,401.5 648.5,403 L648.5,441.5 Q648.5,443.0 647,443.0 L632,443.0" fill="#fff" stroke="#000" stroke-width="1" shape-rendering="auto"/>
<rect x="592.5" y="91.5" width="33" height="39" fill="#fff" stroke="#000" stroke-width="1"/>
<rect x="625" y="91" width="8" height="40" fill="#000"/>
<rect x="628" y="135" width="5" height="2" fill="#000"/>
<rect x="625" y="137" width="8" height="5" fill="#000"/>
<rect x="601" y="142" width="32" height="37" fill="#000"/>
<rect x="625" y="179" width="8" height="4" fill="#000"/>
<rect x="628" y="183" width="5" height="3" fill="#000"/>
<rect x="594.5" y="151" width="3.5" height="7" fill="#fff" stroke="#000" stroke-width="1"/>
<rect x="594.5" y="163" width="3.5" height="7" fill="#fff" stroke="#000" stroke-width="1"/>
<rect x="598.5" y="148.5" width="3" height="24" fill="#fff" stroke="#000" stroke-width="1"/>
<rect x="599" y="151" width="2" height="1" fill="#000"/>
<rect x="599" y="153" width="2" height="1" fill="#000"/>
<rect x="599" y="155" width="2" height="1" fill="#000"/>
<rect x="599" y="157" width="2" height="1" fill="#000"/>
<rect x="599" y="163.5" width="2" height="1" fill="#000"/>
<rect x="599" y="165.5" width="2" height="1" fill="#000"/>
<rect x="599" y="167.5" width="2" height="1" fill="#000"/>
<rect x="599" y="169.5" width="2" height="1" fill="#000"/>
<rect x="598" y="159" width="3" height="3" fill="#fff"/>
<rect x="599.5" y="158" width="1" height="5" fill="#000"/>
<polygon points="585.78,43.75 588.72,40.75 597.27,50.51 595.73,52.09" fill="#000" shape-rendering="auto"/>
<rect x="555" y="26" width="35" height="19" rx="3" fill="#000" shape-rendering="auto"/>
<rect x="557" y="28" width="30.2" height="14.4" rx="1.3" fill="#fff" shape-rendering="auto"/>
<line x1="585.11" y1="40.15" x2="591.41" y2="46.32" stroke="#fff" stroke-width="1" shape-rendering="auto"/>
<text transform="scale(0.78,1)" x="720.51 734.62 745.26" y="38.9" font-size="13" fill="#000" stroke="#000" stroke-width="0.25" text-anchor="middle">CN1</text>
<polygon points="580.83,103.80 583.67,100.70 592.74,110.39 591.26,112.01" fill="#000" shape-rendering="auto"/>
<rect x="550" y="86" width="35" height="19" rx="3" fill="#000" shape-rendering="auto"/>
<rect x="552.8" y="88.6" width="30.2" height="14.4" rx="1.3" fill="#fff" shape-rendering="auto"/>
<line x1="580.04" y1="100.22" x2="586.64" y2="106.28" stroke="#fff" stroke-width="1" shape-rendering="auto"/>
<text transform="scale(0.78,1)" x="715.26 728.46 739.36" y="100.1" font-size="13" fill="#000" stroke="#000" stroke-width="0.25" text-anchor="middle">CN2</text>
<polygon points="589.79,237.76 592.71,234.74 601.37,244.51 599.83,246.09" fill="#000" shape-rendering="auto"/>
<rect x="559" y="220" width="35" height="19" rx="3" fill="#000" shape-rendering="auto"/>
<rect x="561.8" y="222.6" width="30.2" height="14.4" rx="1.3" fill="#fff" shape-rendering="auto"/>
<line x1="589.09" y1="234.16" x2="595.46" y2="240.32" stroke="#fff" stroke-width="1" shape-rendering="auto"/>
<text transform="scale(0.78,1)" x="726.67 739.74 750.90" y="233.8" font-size="13" fill="#000" stroke="#000" stroke-width="0.25" text-anchor="middle">CN3</text>
<polygon points="585.79,337.76 588.71,334.74 597.26,344.41 595.74,345.99" fill="#000" shape-rendering="auto"/>
<rect x="555" y="320" width="35" height="19" rx="3" fill="#000" shape-rendering="auto"/>
<rect x="557.8" y="322.6" width="30.2" height="14.4" rx="1.3" fill="#fff" shape-rendering="auto"/>
<line x1="585.09" y1="334.16" x2="591.41" y2="340.28" stroke="#fff" stroke-width="1" shape-rendering="auto"/>
<text transform="scale(0.78,1)" x="721.79 734.87 745.64" y="333" font-size="13" fill="#000" stroke="#000" stroke-width="0.25" text-anchor="middle">CN4</text>
<rect x="241" y="271" width="129" height="20" fill="#000"/>
<rect x="248" y="278" width="114" height="6" fill="#fff"/>
<rect x="380" y="271" width="202" height="20" fill="#000"/>
<rect x="388" y="278" width="185" height="6" fill="#fff"/>
<rect x="209" y="307" width="220" height="24" fill="#000"/>
<rect x="216" y="315" width="33" height="8" fill="#fff"/>
<rect x="259" y="315" width="120" height="8" fill="#fff"/>
<rect x="388" y="315" width="33" height="8" fill="#fff"/>
<polygon points="229.47,273.44 232.53,270.56 240.60,280.54 239.00,282.06" fill="#000" shape-rendering="auto"/>
<rect x="199" y="256" width="35" height="19" rx="3" fill="#000" shape-rendering="auto"/>
<rect x="201" y="258" width="30.2" height="14.4" rx="1.3" fill="#fff" shape-rendering="auto"/>
<line x1="228.94" y1="269.82" x2="234.96" y2="276.19" stroke="#fff" stroke-width="1" shape-rendering="auto"/>
<text transform="scale(0.78,1)" x="268.08 277.82 284.87" y="268.9" font-size="13" fill="#000" stroke="#000" stroke-width="0.25" text-anchor="middle">RIS</text>
<polygon points="191.07,322.30 190.93,316.30 207.79,318.30 207.81,319.50" fill="#000" shape-rendering="auto"/>
<rect x="156" y="310" width="36" height="19" rx="3" fill="#000" shape-rendering="auto"/>
<rect x="158.7" y="312" width="31.3" height="14.4" rx="1.3" fill="#fff" shape-rendering="auto"/>
<line x1="188.00" y1="319.37" x2="198.56" y2="319.12" stroke="#fff" stroke-width="1" shape-rendering="auto"/>
<text transform="scale(0.78,1)" x="210.13 223.08 235.77" y="322.7" font-size="13" fill="#000" stroke="#000" stroke-width="0.25" text-anchor="middle">CHE</text>
<rect x="117" y="378" width="19" height="12.5" fill="#000"/>
<rect x="118" y="379" width="1" height="11" fill="#fff"/>
<rect x="123" y="379" width="2" height="11" fill="#fff"/>
<rect x="129" y="379" width="1" height="11" fill="#fff"/>
<rect x="118" y="384" width="17" height="1" fill="#fff"/>
<rect x="131" y="380" width="3" height="3" fill="#fff"/>
<text x="113.6" y="374.7" font-size="11.4">5</text>
<text x="113.6" y="399.6" font-size="11.4">6</text>
<text x="132.6" y="399.6" font-size="11.4">2</text>
<polygon points="140.21,366.79 143.29,370.21 133.01,378.41 130.99,376.19" fill="#000" shape-rendering="auto"/>
<rect x="139" y="352" width="35" height="19" rx="3" fill="#000" shape-rendering="auto"/>
<rect x="141" y="354.6" width="30.2" height="14.4" rx="1.3" fill="#fff" shape-rendering="auto"/>
<line x1="143.98" y1="366.49" x2="137.36" y2="372.46" stroke="#fff" stroke-width="1" shape-rendering="auto"/>
<text transform="scale(0.78,1)" x="188.33 199.74 210.26" y="364.6" font-size="13" fill="#000" stroke="#000" stroke-width="0.25" text-anchor="middle">JP8</text>
<rect x="154.5" y="421.5" width="225" height="37.5" fill="#fff" stroke="#000" stroke-width="1"/>
<rect x="154" y="439" width="226" height="2" fill="#000"/>
<rect x="154" y="425" width="9" height="1" fill="#000"/>
<rect x="154" y="432" width="9" height="1" fill="#000"/>
<rect x="162.5" y="422.5" width="3.5" height="17.5" fill="#000"/>
<path d="M166,424.5 L175.5,424.5 L175.5,434.5 L172.5,434.5 L172.5,440 M166,434.5 L168.5,434.5 L168.5,431.5 L172.5,431.5 L172.5,434.5" fill="none" stroke="#000" stroke-width="1"/>
<rect x="372" y="425" width="8" height="1" fill="#000"/>
<rect x="372" y="432" width="8" height="1" fill="#000"/>
<rect x="369" y="422.5" width="3.5" height="17.5" fill="#000"/>
<path d="M369,424.5 L359.5,424.5 L359.5,434.5 L361.5,434.5 L361.5,440 M369,434.5 L366.5,434.5 L366.5,431.5 L361.5,431.5 L361.5,434.5" fill="none" stroke="#000" stroke-width="1"/>
<rect x="180" y="423" width="175" height="15" fill="#000"/>
<rect x="183" y="425" width="4" height="6" fill="#fff"/>
<rect x="184" y="432" width="2" height="5" fill="#fff"/>
<rect x="182" y="423" width="1" height="1" fill="#fff"/>
<rect x="185" y="423" width="1" height="1" fill="#fff"/>
<rect x="189" y="425" width="4" height="6" fill="#fff"/>
<rect x="190" y="432" width="1" height="5" fill="#fff"/>
<rect x="188" y="423" width="1" height="1" fill="#fff"/>
<rect x="191" y="423" width="1" height="1" fill="#fff"/>
<rect x="195" y="425" width="4" height="6" fill="#fff"/>
<rect x="196" y="432" width="1" height="5" fill="#fff"/>
<rect x="194" y="423" width="1" height="1" fill="#fff"/>
<rect x="197" y="423" width="1" height="1" fill="#fff"/>
<rect x="201" y="425" width="5" height="6" fill="#fff"/>
<rect x="202" y="432" width="1" height="5" fill="#fff"/>
<rect x="203" y="431" width="1" height="1" fill="#fff"/>
<rect x="207" y="425" width="4" height="6" fill="#fff"/>
<rect x="208" y="432" width="1" height="5" fill="#fff"/>
<rect x="212" y="425" width="4" height="6" fill="#fff"/>
<rect x="213" y="432" width="1" height="5" fill="#fff"/>
<rect x="211" y="423" width="1" height="1" fill="#fff"/>
<rect x="214" y="423" width="1" height="1" fill="#fff"/>
<rect x="218" y="425" width="4" height="6" fill="#fff"/>
<rect x="219" y="432" width="1" height="5" fill="#fff"/>
<rect x="217" y="423" width="1" height="1" fill="#fff"/>
<rect x="220" y="423" width="1" height="1" fill="#fff"/>
<rect x="224" y="425" width="4" height="6" fill="#fff"/>
<rect x="225" y="432" width="1" height="5" fill="#fff"/>
<rect x="223" y="423" width="1" height="1" fill="#fff"/>
<rect x="226" y="423" width="1" height="1" fill="#fff"/>
<rect x="230" y="425" width="5" height="6" fill="#fff"/>
<rect x="231" y="432" width="1" height="5" fill="#fff"/>
<rect x="232" y="431" width="1" height="1" fill="#fff"/>
<rect x="229" y="423" width="1" height="1" fill="#fff"/>
<rect x="232" y="423" width="1" height="1" fill="#fff"/>
<rect x="236" y="425" width="4" height="6" fill="#fff"/>
<rect x="237" y="432" width="1" height="5" fill="#fff"/>
<rect x="242" y="425" width="4" height="6" fill="#fff"/>
<rect x="243" y="432" width="1" height="5" fill="#fff"/>
<rect x="248" y="425" width="4" height="6" fill="#fff"/>
<rect x="249" y="432" width="1" height="5" fill="#fff"/>
<rect x="247" y="423" width="1" height="1" fill="#fff"/>
<rect x="250" y="423" width="1" height="1" fill="#fff"/>
<rect x="254" y="425" width="4" height="6" fill="#fff"/>
<rect x="255" y="432" width="1" height="5" fill="#fff"/>
<rect x="253" y="423" width="1" height="1" fill="#fff"/>
<rect x="256" y="423" width="1" height="1" fill="#fff"/>
<rect x="260" y="425" width="5" height="6" fill="#fff"/>
<rect x="261" y="432" width="1" height="5" fill="#fff"/>
<rect x="262" y="431" width="1" height="1" fill="#fff"/>
<rect x="259" y="423" width="1" height="1" fill="#fff"/>
<rect x="262" y="423" width="1" height="1" fill="#fff"/>
<rect x="266" y="425" width="4" height="6" fill="#fff"/>
<rect x="267" y="432" width="1" height="5" fill="#fff"/>
<rect x="265" y="423" width="1" height="1" fill="#fff"/>
<rect x="268" y="423" width="1" height="1" fill="#fff"/>
<rect x="272" y="425" width="4" height="6" fill="#fff"/>
<rect x="273" y="432" width="1" height="5" fill="#fff"/>
<rect x="277" y="425" width="4" height="6" fill="#fff"/>
<rect x="278" y="432" width="1" height="5" fill="#fff"/>
<rect x="283" y="425" width="4" height="6" fill="#fff"/>
<rect x="284" y="432" width="1" height="5" fill="#fff"/>
<rect x="282" y="423" width="1" height="1" fill="#fff"/>
<rect x="285" y="423" width="1" height="1" fill="#fff"/>
<rect x="289" y="425" width="5" height="6" fill="#fff"/>
<rect x="290" y="432" width="1" height="5" fill="#fff"/>
<rect x="291" y="431" width="1" height="1" fill="#fff"/>
<rect x="288" y="423" width="1" height="1" fill="#fff"/>
<rect x="291" y="423" width="1" height="1" fill="#fff"/>
<rect x="295" y="425" width="4" height="6" fill="#fff"/>
<rect x="296" y="432" width="1" height="5" fill="#fff"/>
<rect x="294" y="423" width="1" height="1" fill="#fff"/>
<rect x="297" y="423" width="1" height="1" fill="#fff"/>
<rect x="301" y="425" width="4" height="6" fill="#fff"/>
<rect x="302" y="432" width="1" height="5" fill="#fff"/>
<rect x="300" y="423" width="1" height="1" fill="#fff"/>
<rect x="303" y="423" width="1" height="1" fill="#fff"/>
<rect x="307" y="425" width="4" height="6" fill="#fff"/>
<rect x="308" y="432" width="1" height="5" fill="#fff"/>
<rect x="313" y="425" width="4" height="6" fill="#fff"/>
<rect x="314" y="432" width="1" height="5" fill="#fff"/>
<rect x="319" y="425" width="5" height="6" fill="#fff"/>
<rect x="320" y="432" width="1" height="5" fill="#fff"/>
<rect x="321" y="431" width="1" height="1" fill="#fff"/>
<rect x="318" y="423" width="1" height="1" fill="#fff"/>
<rect x="321" y="423" width="1" height="1" fill="#fff"/>
<rect x="325" y="425" width="4" height="6" fill="#fff"/>
<rect x="326" y="432" width="1" height="5" fill="#fff"/>
<rect x="324" y="423" width="1" height="1" fill="#fff"/>
<rect x="327" y="423" width="1" height="1" fill="#fff"/>
<rect x="330" y="425" width="4" height="6" fill="#fff"/>
<rect x="331" y="432" width="1" height="5" fill="#fff"/>
<rect x="329" y="423" width="1" height="1" fill="#fff"/>
<rect x="332" y="423" width="1" height="1" fill="#fff"/>
<rect x="336" y="425" width="4" height="6" fill="#fff"/>
<rect x="337" y="432" width="1" height="5" fill="#fff"/>
<rect x="335" y="423" width="1" height="1" fill="#fff"/>
<rect x="338" y="423" width="1" height="1" fill="#fff"/>
<rect x="342" y="425" width="4" height="6" fill="#fff"/>
<rect x="343" y="432" width="2" height="5" fill="#fff"/>
<rect x="348" y="425" width="5" height="6" fill="#fff"/>
<rect x="349" y="432" width="2" height="5" fill="#fff"/>
<rect x="350" y="431" width="1" height="1" fill="#fff"/>
<rect x="154" y="444" width="9" height="1" fill="#000"/>
<rect x="154" y="451" width="9" height="1" fill="#000"/>
<rect x="162.5" y="441.5" width="3.5" height="17.5" fill="#000"/>
<path d="M166,443.5 L175.5,443.5 L175.5,453.5 L172.5,453.5 L172.5,459 M166,453.5 L168.5,453.5 L168.5,450.5 L172.5,450.5 L172.5,453.5" fill="none" stroke="#000" stroke-width="1"/>
<rect x="372" y="444" width="8" height="1" fill="#000"/>
<rect x="372" y="451" width="8" height="1" fill="#000"/>
<rect x="369" y="441.5" width="3.5" height="17.5" fill="#000"/>
<path d="M369,443.5 L359.5,443.5 L359.5,453.5 L361.5,453.5 L361.5,459 M369,453.5 L366.5,453.5 L366.5,450.5 L361.5,450.5 L361.5,453.5" fill="none" stroke="#000" stroke-width="1"/>
<rect x="180" y="442" width="175" height="15" fill="#000"/>
<rect x="183" y="444" width="4" height="6" fill="#fff"/>
<rect x="184" y="451" width="2" height="5" fill="#fff"/>
<rect x="182" y="442" width="1" height="1" fill="#fff"/>
<rect x="185" y="442" width="1" height="1" fill="#fff"/>
<rect x="189" y="444" width="4" height="6" fill="#fff"/>
<rect x="190" y="451" width="1" height="5" fill="#fff"/>
<rect x="188" y="442" width="1" height="1" fill="#fff"/>
<rect x="191" y="442" width="1" height="1" fill="#fff"/>
<rect x="195" y="444" width="4" height="6" fill="#fff"/>
<rect x="196" y="451" width="1" height="5" fill="#fff"/>
<rect x="194" y="442" width="1" height="1" fill="#fff"/>
<rect x="197" y="442" width="1" height="1" fill="#fff"/>
<rect x="201" y="444" width="5" height="6" fill="#fff"/>
<rect x="202" y="451" width="1" height="5" fill="#fff"/>
<rect x="203" y="450" width="1" height="1" fill="#fff"/>
<rect x="207" y="444" width="4" height="6" fill="#fff"/>
<rect x="208" y="451" width="1" height="5" fill="#fff"/>
<rect x="212" y="444" width="4" height="6" fill="#fff"/>
<rect x="213" y="451" width="1" height="5" fill="#fff"/>
<rect x="211" y="442" width="1" height="1" fill="#fff"/>
<rect x="214" y="442" width="1" height="1" fill="#fff"/>
<rect x="218" y="444" width="4" height="6" fill="#fff"/>
<rect x="219" y="451" width="1" height="5" fill="#fff"/>
<rect x="217" y="442" width="1" height="1" fill="#fff"/>
<rect x="220" y="442" width="1" height="1" fill="#fff"/>
<rect x="224" y="444" width="4" height="6" fill="#fff"/>
<rect x="225" y="451" width="1" height="5" fill="#fff"/>
<rect x="223" y="442" width="1" height="1" fill="#fff"/>
<rect x="226" y="442" width="1" height="1" fill="#fff"/>
<rect x="230" y="444" width="5" height="6" fill="#fff"/>
<rect x="231" y="451" width="1" height="5" fill="#fff"/>
<rect x="232" y="450" width="1" height="1" fill="#fff"/>
<rect x="229" y="442" width="1" height="1" fill="#fff"/>
<rect x="232" y="442" width="1" height="1" fill="#fff"/>
<rect x="236" y="444" width="4" height="6" fill="#fff"/>
<rect x="237" y="451" width="1" height="5" fill="#fff"/>
<rect x="242" y="444" width="4" height="6" fill="#fff"/>
<rect x="243" y="451" width="1" height="5" fill="#fff"/>
<rect x="248" y="444" width="4" height="6" fill="#fff"/>
<rect x="249" y="451" width="1" height="5" fill="#fff"/>
<rect x="247" y="442" width="1" height="1" fill="#fff"/>
<rect x="250" y="442" width="1" height="1" fill="#fff"/>
<rect x="254" y="444" width="4" height="6" fill="#fff"/>
<rect x="255" y="451" width="1" height="5" fill="#fff"/>
<rect x="253" y="442" width="1" height="1" fill="#fff"/>
<rect x="256" y="442" width="1" height="1" fill="#fff"/>
<rect x="260" y="444" width="5" height="6" fill="#fff"/>
<rect x="261" y="451" width="1" height="5" fill="#fff"/>
<rect x="262" y="450" width="1" height="1" fill="#fff"/>
<rect x="259" y="442" width="1" height="1" fill="#fff"/>
<rect x="262" y="442" width="1" height="1" fill="#fff"/>
<rect x="266" y="444" width="4" height="6" fill="#fff"/>
<rect x="267" y="451" width="1" height="5" fill="#fff"/>
<rect x="265" y="442" width="1" height="1" fill="#fff"/>
<rect x="268" y="442" width="1" height="1" fill="#fff"/>
<rect x="272" y="444" width="4" height="6" fill="#fff"/>
<rect x="273" y="451" width="1" height="5" fill="#fff"/>
<rect x="277" y="444" width="4" height="6" fill="#fff"/>
<rect x="278" y="451" width="1" height="5" fill="#fff"/>
<rect x="283" y="444" width="4" height="6" fill="#fff"/>
<rect x="284" y="451" width="1" height="5" fill="#fff"/>
<rect x="282" y="442" width="1" height="1" fill="#fff"/>
<rect x="285" y="442" width="1" height="1" fill="#fff"/>
<rect x="289" y="444" width="5" height="6" fill="#fff"/>
<rect x="290" y="451" width="1" height="5" fill="#fff"/>
<rect x="291" y="450" width="1" height="1" fill="#fff"/>
<rect x="288" y="442" width="1" height="1" fill="#fff"/>
<rect x="291" y="442" width="1" height="1" fill="#fff"/>
<rect x="295" y="444" width="4" height="6" fill="#fff"/>
<rect x="296" y="451" width="1" height="5" fill="#fff"/>
<rect x="294" y="442" width="1" height="1" fill="#fff"/>
<rect x="297" y="442" width="1" height="1" fill="#fff"/>
<rect x="301" y="444" width="4" height="6" fill="#fff"/>
<rect x="302" y="451" width="1" height="5" fill="#fff"/>
<rect x="300" y="442" width="1" height="1" fill="#fff"/>
<rect x="303" y="442" width="1" height="1" fill="#fff"/>
<rect x="307" y="444" width="4" height="6" fill="#fff"/>
<rect x="308" y="451" width="1" height="5" fill="#fff"/>
<rect x="313" y="444" width="4" height="6" fill="#fff"/>
<rect x="314" y="451" width="1" height="5" fill="#fff"/>
<rect x="319" y="444" width="5" height="6" fill="#fff"/>
<rect x="320" y="451" width="1" height="5" fill="#fff"/>
<rect x="321" y="450" width="1" height="1" fill="#fff"/>
<rect x="318" y="442" width="1" height="1" fill="#fff"/>
<rect x="321" y="442" width="1" height="1" fill="#fff"/>
<rect x="325" y="444" width="4" height="6" fill="#fff"/>
<rect x="326" y="451" width="1" height="5" fill="#fff"/>
<rect x="324" y="442" width="1" height="1" fill="#fff"/>
<rect x="327" y="442" width="1" height="1" fill="#fff"/>
<rect x="330" y="444" width="4" height="6" fill="#fff"/>
<rect x="331" y="451" width="1" height="5" fill="#fff"/>
<rect x="329" y="442" width="1" height="1" fill="#fff"/>
<rect x="332" y="442" width="1" height="1" fill="#fff"/>
<rect x="336" y="444" width="4" height="6" fill="#fff"/>
<rect x="337" y="451" width="1" height="5" fill="#fff"/>
<rect x="335" y="442" width="1" height="1" fill="#fff"/>
<rect x="338" y="442" width="1" height="1" fill="#fff"/>
<rect x="342" y="444" width="4" height="6" fill="#fff"/>
<rect x="343" y="451" width="2" height="5" fill="#fff"/>
<rect x="348" y="444" width="5" height="6" fill="#fff"/>
<rect x="349" y="451" width="2" height="5" fill="#fff"/>
<rect x="350" y="450" width="1" height="1" fill="#fff"/>
<rect x="154.5" y="462.5" width="225" height="37.5" fill="#fff" stroke="#000" stroke-width="1"/>
<rect x="154" y="480" width="226" height="2" fill="#000"/>
<rect x="154" y="466" width="9" height="1" fill="#000"/>
<rect x="154" y="473" width="9" height="1" fill="#000"/>
<rect x="162.5" y="463.5" width="3.5" height="17.5" fill="#000"/>
<path d="M166,465.5 L175.5,465.5 L175.5,475.5 L172.5,475.5 L172.5,481 M166,475.5 L168.5,475.5 L168.5,472.5 L172.5,472.5 L172.5,475.5" fill="none" stroke="#000" stroke-width="1"/>
<rect x="372" y="466" width="8" height="1" fill="#000"/>
<rect x="372" y="473" width="8" height="1" fill="#000"/>
<rect x="369" y="463.5" width="3.5" height="17.5" fill="#000"/>
<path d="M369,465.5 L359.5,465.5 L359.5,475.5 L361.5,475.5 L361.5,481 M369,475.5 L366.5,475.5 L366.5,472.5 L361.5,472.5 L361.5,475.5" fill="none" stroke="#000" stroke-width="1"/>
<rect x="180" y="464" width="175" height="15" fill="#000"/>
<rect x="183" y="466" width="4" height="6" fill="#fff"/>
<rect x="184" y="473" width="2" height="5" fill="#fff"/>
<rect x="182" y="464" width="1" height="1" fill="#fff"/>
<rect x="185" y="464" width="1" height="1" fill="#fff"/>
<rect x="189" y="466" width="4" height="6" fill="#fff"/>
<rect x="190" y="473" width="1" height="5" fill="#fff"/>
<rect x="188" y="464" width="1" height="1" fill="#fff"/>
<rect x="191" y="464" width="1" height="1" fill="#fff"/>
<rect x="195" y="466" width="4" height="6" fill="#fff"/>
<rect x="196" y="473" width="1" height="5" fill="#fff"/>
<rect x="194" y="464" width="1" height="1" fill="#fff"/>
<rect x="197" y="464" width="1" height="1" fill="#fff"/>
<rect x="201" y="466" width="5" height="6" fill="#fff"/>
<rect x="202" y="473" width="1" height="5" fill="#fff"/>
<rect x="203" y="472" width="1" height="1" fill="#fff"/>
<rect x="207" y="466" width="4" height="6" fill="#fff"/>
<rect x="208" y="473" width="1" height="5" fill="#fff"/>
<rect x="212" y="466" width="4" height="6" fill="#fff"/>
<rect x="213" y="473" width="1" height="5" fill="#fff"/>
<rect x="211" y="464" width="1" height="1" fill="#fff"/>
<rect x="214" y="464" width="1" height="1" fill="#fff"/>
<rect x="218" y="466" width="4" height="6" fill="#fff"/>
<rect x="219" y="473" width="1" height="5" fill="#fff"/>
<rect x="217" y="464" width="1" height="1" fill="#fff"/>
<rect x="220" y="464" width="1" height="1" fill="#fff"/>
<rect x="224" y="466" width="4" height="6" fill="#fff"/>
<rect x="225" y="473" width="1" height="5" fill="#fff"/>
<rect x="223" y="464" width="1" height="1" fill="#fff"/>
<rect x="226" y="464" width="1" height="1" fill="#fff"/>
<rect x="230" y="466" width="5" height="6" fill="#fff"/>
<rect x="231" y="473" width="1" height="5" fill="#fff"/>
<rect x="232" y="472" width="1" height="1" fill="#fff"/>
<rect x="229" y="464" width="1" height="1" fill="#fff"/>
<rect x="232" y="464" width="1" height="1" fill="#fff"/>
<rect x="236" y="466" width="4" height="6" fill="#fff"/>
<rect x="237" y="473" width="1" height="5" fill="#fff"/>
<rect x="242" y="466" width="4" height="6" fill="#fff"/>
<rect x="243" y="473" width="1" height="5" fill="#fff"/>
<rect x="248" y="466" width="4" height="6" fill="#fff"/>
<rect x="249" y="473" width="1" height="5" fill="#fff"/>
<rect x="247" y="464" width="1" height="1" fill="#fff"/>
<rect x="250" y="464" width="1" height="1" fill="#fff"/>
<rect x="254" y="466" width="4" height="6" fill="#fff"/>
<rect x="255" y="473" width="1" height="5" fill="#fff"/>
<rect x="253" y="464" width="1" height="1" fill="#fff"/>
<rect x="256" y="464" width="1" height="1" fill="#fff"/>
<rect x="260" y="466" width="5" height="6" fill="#fff"/>
<rect x="261" y="473" width="1" height="5" fill="#fff"/>
<rect x="262" y="472" width="1" height="1" fill="#fff"/>
<rect x="259" y="464" width="1" height="1" fill="#fff"/>
<rect x="262" y="464" width="1" height="1" fill="#fff"/>
<rect x="266" y="466" width="4" height="6" fill="#fff"/>
<rect x="267" y="473" width="1" height="5" fill="#fff"/>
<rect x="265" y="464" width="1" height="1" fill="#fff"/>
<rect x="268" y="464" width="1" height="1" fill="#fff"/>
<rect x="272" y="466" width="4" height="6" fill="#fff"/>
<rect x="273" y="473" width="1" height="5" fill="#fff"/>
<rect x="277" y="466" width="4" height="6" fill="#fff"/>
<rect x="278" y="473" width="1" height="5" fill="#fff"/>
<rect x="283" y="466" width="4" height="6" fill="#fff"/>
<rect x="284" y="473" width="1" height="5" fill="#fff"/>
<rect x="282" y="464" width="1" height="1" fill="#fff"/>
<rect x="285" y="464" width="1" height="1" fill="#fff"/>
<rect x="289" y="466" width="5" height="6" fill="#fff"/>
<rect x="290" y="473" width="1" height="5" fill="#fff"/>
<rect x="291" y="472" width="1" height="1" fill="#fff"/>
<rect x="288" y="464" width="1" height="1" fill="#fff"/>
<rect x="291" y="464" width="1" height="1" fill="#fff"/>
<rect x="295" y="466" width="4" height="6" fill="#fff"/>
<rect x="296" y="473" width="1" height="5" fill="#fff"/>
<rect x="294" y="464" width="1" height="1" fill="#fff"/>
<rect x="297" y="464" width="1" height="1" fill="#fff"/>
<rect x="301" y="466" width="4" height="6" fill="#fff"/>
<rect x="302" y="473" width="1" height="5" fill="#fff"/>
<rect x="300" y="464" width="1" height="1" fill="#fff"/>
<rect x="303" y="464" width="1" height="1" fill="#fff"/>
<rect x="307" y="466" width="4" height="6" fill="#fff"/>
<rect x="308" y="473" width="1" height="5" fill="#fff"/>
<rect x="313" y="466" width="4" height="6" fill="#fff"/>
<rect x="314" y="473" width="1" height="5" fill="#fff"/>
<rect x="319" y="466" width="5" height="6" fill="#fff"/>
<rect x="320" y="473" width="1" height="5" fill="#fff"/>
<rect x="321" y="472" width="1" height="1" fill="#fff"/>
<rect x="318" y="464" width="1" height="1" fill="#fff"/>
<rect x="321" y="464" width="1" height="1" fill="#fff"/>
<rect x="325" y="466" width="4" height="6" fill="#fff"/>
<rect x="326" y="473" width="1" height="5" fill="#fff"/>
<rect x="324" y="464" width="1" height="1" fill="#fff"/>
<rect x="327" y="464" width="1" height="1" fill="#fff"/>
<rect x="330" y="466" width="4" height="6" fill="#fff"/>
<rect x="331" y="473" width="1" height="5" fill="#fff"/>
<rect x="329" y="464" width="1" height="1" fill="#fff"/>
<rect x="332" y="464" width="1" height="1" fill="#fff"/>
<rect x="336" y="466" width="4" height="6" fill="#fff"/>
<rect x="337" y="473" width="1" height="5" fill="#fff"/>
<rect x="335" y="464" width="1" height="1" fill="#fff"/>
<rect x="338" y="464" width="1" height="1" fill="#fff"/>
<rect x="342" y="466" width="4" height="6" fill="#fff"/>
<rect x="343" y="473" width="2" height="5" fill="#fff"/>
<rect x="348" y="466" width="5" height="6" fill="#fff"/>
<rect x="349" y="473" width="2" height="5" fill="#fff"/>
<rect x="350" y="472" width="1" height="1" fill="#fff"/>
<rect x="154" y="485" width="9" height="1" fill="#000"/>
<rect x="154" y="492" width="9" height="1" fill="#000"/>
<rect x="162.5" y="482.5" width="3.5" height="17.5" fill="#000"/>
<path d="M166,484.5 L175.5,484.5 L175.5,494.5 L172.5,494.5 L172.5,500 M166,494.5 L168.5,494.5 L168.5,491.5 L172.5,491.5 L172.5,494.5" fill="none" stroke="#000" stroke-width="1"/>
<rect x="372" y="485" width="8" height="1" fill="#000"/>
<rect x="372" y="492" width="8" height="1" fill="#000"/>
<rect x="369" y="482.5" width="3.5" height="17.5" fill="#000"/>
<path d="M369,484.5 L359.5,484.5 L359.5,494.5 L361.5,494.5 L361.5,500 M369,494.5 L366.5,494.5 L366.5,491.5 L361.5,491.5 L361.5,494.5" fill="none" stroke="#000" stroke-width="1"/>
<rect x="180" y="483" width="175" height="15" fill="#000"/>
<rect x="183" y="485" width="4" height="6" fill="#fff"/>
<rect x="184" y="492" width="2" height="5" fill="#fff"/>
<rect x="182" y="483" width="1" height="1" fill="#fff"/>
<rect x="185" y="483" width="1" height="1" fill="#fff"/>
<rect x="189" y="485" width="4" height="6" fill="#fff"/>
<rect x="190" y="492" width="1" height="5" fill="#fff"/>
<rect x="188" y="483" width="1" height="1" fill="#fff"/>
<rect x="191" y="483" width="1" height="1" fill="#fff"/>
<rect x="195" y="485" width="4" height="6" fill="#fff"/>
<rect x="196" y="492" width="1" height="5" fill="#fff"/>
<rect x="194" y="483" width="1" height="1" fill="#fff"/>
<rect x="197" y="483" width="1" height="1" fill="#fff"/>
<rect x="201" y="485" width="5" height="6" fill="#fff"/>
<rect x="202" y="492" width="1" height="5" fill="#fff"/>
<rect x="203" y="491" width="1" height="1" fill="#fff"/>
<rect x="207" y="485" width="4" height="6" fill="#fff"/>
<rect x="208" y="492" width="1" height="5" fill="#fff"/>
<rect x="212" y="485" width="4" height="6" fill="#fff"/>
<rect x="213" y="492" width="1" height="5" fill="#fff"/>
<rect x="211" y="483" width="1" height="1" fill="#fff"/>
<rect x="214" y="483" width="1" height="1" fill="#fff"/>
<rect x="218" y="485" width="4" height="6" fill="#fff"/>
<rect x="219" y="492" width="1" height="5" fill="#fff"/>
<rect x="217" y="483" width="1" height="1" fill="#fff"/>
<rect x="220" y="483" width="1" height="1" fill="#fff"/>
<rect x="224" y="485" width="4" height="6" fill="#fff"/>
<rect x="225" y="492" width="1" height="5" fill="#fff"/>
<rect x="223" y="483" width="1" height="1" fill="#fff"/>
<rect x="226" y="483" width="1" height="1" fill="#fff"/>
<rect x="230" y="485" width="5" height="6" fill="#fff"/>
<rect x="231" y="492" width="1" height="5" fill="#fff"/>
<rect x="232" y="491" width="1" height="1" fill="#fff"/>
<rect x="229" y="483" width="1" height="1" fill="#fff"/>
<rect x="232" y="483" width="1" height="1" fill="#fff"/>
<rect x="236" y="485" width="4" height="6" fill="#fff"/>
<rect x="237" y="492" width="1" height="5" fill="#fff"/>
<rect x="242" y="485" width="4" height="6" fill="#fff"/>
<rect x="243" y="492" width="1" height="5" fill="#fff"/>
<rect x="248" y="485" width="4" height="6" fill="#fff"/>
<rect x="249" y="492" width="1" height="5" fill="#fff"/>
<rect x="247" y="483" width="1" height="1" fill="#fff"/>
<rect x="250" y="483" width="1" height="1" fill="#fff"/>
<rect x="254" y="485" width="4" height="6" fill="#fff"/>
<rect x="255" y="492" width="1" height="5" fill="#fff"/>
<rect x="253" y="483" width="1" height="1" fill="#fff"/>
<rect x="256" y="483" width="1" height="1" fill="#fff"/>
<rect x="260" y="485" width="5" height="6" fill="#fff"/>
<rect x="261" y="492" width="1" height="5" fill="#fff"/>
<rect x="262" y="491" width="1" height="1" fill="#fff"/>
<rect x="259" y="483" width="1" height="1" fill="#fff"/>
<rect x="262" y="483" width="1" height="1" fill="#fff"/>
<rect x="266" y="485" width="4" height="6" fill="#fff"/>
<rect x="267" y="492" width="1" height="5" fill="#fff"/>
<rect x="265" y="483" width="1" height="1" fill="#fff"/>
<rect x="268" y="483" width="1" height="1" fill="#fff"/>
<rect x="272" y="485" width="4" height="6" fill="#fff"/>
<rect x="273" y="492" width="1" height="5" fill="#fff"/>
<rect x="277" y="485" width="4" height="6" fill="#fff"/>
<rect x="278" y="492" width="1" height="5" fill="#fff"/>
<rect x="283" y="485" width="4" height="6" fill="#fff"/>
<rect x="284" y="492" width="1" height="5" fill="#fff"/>
<rect x="282" y="483" width="1" height="1" fill="#fff"/>
<rect x="285" y="483" width="1" height="1" fill="#fff"/>
<rect x="289" y="485" width="5" height="6" fill="#fff"/>
<rect x="290" y="492" width="1" height="5" fill="#fff"/>
<rect x="291" y="491" width="1" height="1" fill="#fff"/>
<rect x="288" y="483" width="1" height="1" fill="#fff"/>
<rect x="291" y="483" width="1" height="1" fill="#fff"/>
<rect x="295" y="485" width="4" height="6" fill="#fff"/>
<rect x="296" y="492" width="1" height="5" fill="#fff"/>
<rect x="294" y="483" width="1" height="1" fill="#fff"/>
<rect x="297" y="483" width="1" height="1" fill="#fff"/>
<rect x="301" y="485" width="4" height="6" fill="#fff"/>
<rect x="302" y="492" width="1" height="5" fill="#fff"/>
<rect x="300" y="483" width="1" height="1" fill="#fff"/>
<rect x="303" y="483" width="1" height="1" fill="#fff"/>
<rect x="307" y="485" width="4" height="6" fill="#fff"/>
<rect x="308" y="492" width="1" height="5" fill="#fff"/>
<rect x="313" y="485" width="4" height="6" fill="#fff"/>
<rect x="314" y="492" width="1" height="5" fill="#fff"/>
<rect x="319" y="485" width="5" height="6" fill="#fff"/>
<rect x="320" y="492" width="1" height="5" fill="#fff"/>
<rect x="321" y="491" width="1" height="1" fill="#fff"/>
<rect x="318" y="483" width="1" height="1" fill="#fff"/>
<rect x="321" y="483" width="1" height="1" fill="#fff"/>
<rect x="325" y="485" width="4" height="6" fill="#fff"/>
<rect x="326" y="492" width="1" height="5" fill="#fff"/>
<rect x="324" y="483" width="1" height="1" fill="#fff"/>
<rect x="327" y="483" width="1" height="1" fill="#fff"/>
<rect x="330" y="485" width="4" height="6" fill="#fff"/>
<rect x="331" y="492" width="1" height="5" fill="#fff"/>
<rect x="329" y="483" width="1" height="1" fill="#fff"/>
<rect x="332" y="483" width="1" height="1" fill="#fff"/>
<rect x="336" y="485" width="4" height="6" fill="#fff"/>
<rect x="337" y="492" width="1" height="5" fill="#fff"/>
<rect x="335" y="483" width="1" height="1" fill="#fff"/>
<rect x="338" y="483" width="1" height="1" fill="#fff"/>
<rect x="342" y="485" width="4" height="6" fill="#fff"/>
<rect x="343" y="492" width="2" height="5" fill="#fff"/>
<rect x="348" y="485" width="5" height="6" fill="#fff"/>
<rect x="349" y="492" width="2" height="5" fill="#fff"/>
<rect x="350" y="491" width="1" height="1" fill="#fff"/>
<rect x="237.5" y="431.5" width="58.5" height="17" fill="#fff" stroke="#000" stroke-width="1" rx="2"/>
<text transform="scale(0.82,1)" x="300.24 309.02 318.17 327.93 338.41 349.27" y="443.2" font-size="12" fill="#000" stroke="#000" stroke-width="0.25" text-anchor="middle">BANK 2</text>
<rect x="237.5" y="473.5" width="58.5" height="16.5" fill="#fff" stroke="#000" stroke-width="1" rx="2"/>
<text transform="scale(0.82,1)" x="300.24 309.02 318.17 327.93 338.41 349.27" y="485" font-size="12" fill="#000" stroke="#000" stroke-width="0.25" text-anchor="middle">BANK 1</text>
<rect x="410" y="449" width="14" height="7" fill="#000"/>
<rect x="411" y="450" width="1" height="5" fill="#fff"/>
<rect x="416" y="450" width="1" height="4" fill="#fff"/>
<rect x="422" y="450" width="1" height="5" fill="#fff"/>
<rect x="411" y="454" width="12" height="1" fill="#fff"/>
<polygon points="414.35,430.93 420.35,431.07 417.70,449.02 416.10,448.98" fill="#000" shape-rendering="auto"/>
<rect x="401" y="414" width="34" height="18" rx="3" fill="#000" shape-rendering="auto"/>
<rect x="403" y="416.6" width="29.2" height="13.4" rx="1.3" fill="#fff" shape-rendering="auto"/>
<line x1="417.42" y1="428.00" x2="417.15" y2="439.10" stroke="#fff" stroke-width="1" shape-rendering="auto"/>
<text transform="scale(0.78,1)" x="523.97 535.77 545.00" y="426.9" font-size="13" fill="#000" stroke="#000" stroke-width="0.25" text-anchor="middle">JP6</text>
<rect x="390.5" y="466.5" width="101.5" height="12" fill="#fff" stroke="#000" stroke-width="1"/>
<rect x="392" y="467.7" width="99" height="10.3" fill="#000"/>
<rect x="392" y="472" width="99" height="1" fill="#fff"/>
<rect x="396.5" y="467.7" width="1.5" height="10.3" fill="#fff"/>
<rect x="402.5" y="467.7" width="1" height="10.3" fill="#fff"/>
<rect x="408.5" y="467.7" width="1.5" height="10.3" fill="#fff"/>
<rect x="414.5" y="467.7" width="1" height="10.3" fill="#fff"/>
<rect x="420.5" y="467.7" width="1.5" height="10.3" fill="#fff"/>
<rect x="426.5" y="467.7" width="1" height="10.3" fill="#fff"/>
<rect x="432.5" y="467.7" width="1.5" height="10.3" fill="#fff"/>
<rect x="438" y="467.7" width="1" height="10.3" fill="#fff"/>
<rect x="444" y="467.7" width="1.5" height="10.3" fill="#fff"/>
<rect x="450" y="467.7" width="1" height="10.3" fill="#fff"/>
<rect x="456" y="467.7" width="1.5" height="10.3" fill="#fff"/>
<rect x="462" y="467.7" width="1" height="10.3" fill="#fff"/>
<rect x="468" y="467.7" width="1.5" height="10.3" fill="#fff"/>
<rect x="474" y="467.7" width="1" height="10.3" fill="#fff"/>
<rect x="480" y="467.7" width="1.5" height="10.3" fill="#fff"/>
<rect x="485.5" y="467.7" width="1" height="10.3" fill="#fff"/>
<rect x="393" y="474" width="2" height="3" fill="#fff"/>
<rect x="391" y="500" width="119" height="12" fill="#000"/>
<rect x="392" y="505.3" width="117" height="1" fill="#fff"/>
<rect x="396.5" y="501" width="1.5" height="10" fill="#fff"/>
<rect x="402.5" y="501" width="1.5" height="10" fill="#fff"/>
<rect x="408.5" y="501" width="1" height="10" fill="#fff"/>
<rect x="414" y="501" width="1.5" height="10" fill="#fff"/>
<rect x="420" y="501" width="1.5" height="10" fill="#fff"/>
<rect x="426" y="501" width="1" height="10" fill="#fff"/>
<rect x="432" y="501" width="1.5" height="10" fill="#fff"/>
<rect x="438" y="501" width="1.5" height="10" fill="#fff"/>
<rect x="444" y="501" width="1" height="10" fill="#fff"/>
<rect x="450" y="501" width="1.5" height="10" fill="#fff"/>
<rect x="455.5" y="501" width="1.5" height="10" fill="#fff"/>
<rect x="461.5" y="501" width="1" height="10" fill="#fff"/>
<rect x="467.5" y="501" width="1.5" height="10" fill="#fff"/>
<rect x="473.5" y="501" width="1.5" height="10" fill="#fff"/>
<rect x="479.5" y="501" width="1" height="10" fill="#fff"/>
<rect x="485.5" y="501" width="1.5" height="10" fill="#fff"/>
<rect x="491.5" y="501" width="1.5" height="10" fill="#fff"/>
<rect x="497" y="501" width="1" height="10" fill="#fff"/>
<rect x="503" y="501" width="1.5" height="10" fill="#fff"/>
<rect x="393" y="507" width="3" height="3" fill="#fff"/>
<polygon points="500.53,461.50 503.47,464.50 493.57,472.79 492.03,471.21" fill="#000" shape-rendering="auto"/>
<rect x="499" y="448.2" width="35" height="17.5" rx="3" fill="#000" shape-rendering="auto"/>
<rect x="501" y="450.8" width="30.2" height="12.9" rx="1.3" fill="#fff" shape-rendering="auto"/>
<line x1="504.14" y1="460.90" x2="497.86" y2="467.05" stroke="#fff" stroke-width="1" shape-rendering="auto"/>
<text transform="scale(0.78,1)" x="649.10 660.00 673.46" y="461" font-size="13" fill="#000" stroke="#000" stroke-width="0.25" text-anchor="middle">FDD</text>
<polygon points="518.72,495.07 521.78,497.93 511.70,507.25 510.10,505.75" fill="#000" shape-rendering="auto"/>
<rect x="517" y="481" width="35" height="18.6" rx="3" fill="#000" shape-rendering="auto"/>
<rect x="519" y="483" width="30.2" height="14" rx="1.3" fill="#fff" shape-rendering="auto"/>
<line x1="522.30" y1="494.31" x2="516.04" y2="501.00" stroke="#fff" stroke-width="1" shape-rendering="auto"/>
<text transform="scale(0.78,1)" x="673.59 682.18 694.36" y="493.8" font-size="13" fill="#000" stroke="#000" stroke-width="0.25" text-anchor="middle">IDE</text>
<rect x="551.5" y="364.5" width="23" height="111" fill="#fff" stroke="#000" stroke-width="1"/>
<rect x="554" y="364" width="1" height="3.5" fill="#000"/>
<rect x="559" y="364" width="1" height="3.5" fill="#000"/>
<rect x="554" y="367" width="6" height="1" fill="#000"/>
<rect x="554.5" y="370.5" width="6" height="6.5" fill="#fff" stroke="#000" stroke-width="1"/>
<rect x="562.8" y="366.5" width="1.7" height="5.5" fill="#fff" stroke="#000" stroke-width="1"/>
<path d="M568,365.5 L570.5,365.5 L570.5,366.5 L572,366.5 L572,369.5 L570.5,369.5 L570.5,370.7 L568,370.7 Z" fill="#000"/>
<rect x="554.5" y="380.5" width="6" height="6.5" fill="#fff" stroke="#000" stroke-width="1"/>
<rect x="562.8" y="376.5" width="1.7" height="5.5" fill="#fff" stroke="#000" stroke-width="1"/>
<path d="M568,375.5 L570.5,375.5 L570.5,376.5 L572,376.5 L572,379.5 L570.5,379.5 L570.5,380.7 L568,380.7 Z" fill="#000"/>
<rect x="554.5" y="389.5" width="6" height="6.5" fill="#fff" stroke="#000" stroke-width="1"/>
<rect x="562.8" y="385.5" width="1.7" height="5.5" fill="#fff" stroke="#000" stroke-width="1"/>
<path d="M568,384.5 L570.5,384.5 L570.5,385.5 L572,385.5 L572,388.5 L570.5,388.5 L570.5,389.7 L568,389.7 Z" fill="#000"/>
<rect x="554.5" y="398.5" width="6" height="6.5" fill="#fff" stroke="#000" stroke-width="1"/>
<rect x="562.8" y="394.5" width="1.7" height="5.5" fill="#fff" stroke="#000" stroke-width="1"/>
<path d="M568,393.5 L570.5,393.5 L570.5,394.5 L572,394.5 L572,397.5 L570.5,397.5 L570.5,398.7 L568,398.7 Z" fill="#000"/>
<rect x="554.5" y="408.5" width="6" height="6.5" fill="#fff" stroke="#000" stroke-width="1"/>
<rect x="562.8" y="404.5" width="1.7" height="5.5" fill="#fff" stroke="#000" stroke-width="1"/>
<path d="M568,403.5 L570.5,403.5 L570.5,404.5 L572,404.5 L572,407.5 L570.5,407.5 L570.5,408.7 L568,408.7 Z" fill="#000"/>
<rect x="554.5" y="417.5" width="6" height="6.5" fill="#fff" stroke="#000" stroke-width="1"/>
<rect x="562.8" y="413.5" width="1.7" height="5.5" fill="#fff" stroke="#000" stroke-width="1"/>
<path d="M568,412.5 L570.5,412.5 L570.5,413.5 L572,413.5 L572,416.5 L570.5,416.5 L570.5,417.7 L568,417.7 Z" fill="#000"/>
<rect x="554.5" y="426.5" width="6" height="6.5" fill="#fff" stroke="#000" stroke-width="1"/>
<rect x="562.8" y="422.5" width="1.7" height="5.5" fill="#fff" stroke="#000" stroke-width="1"/>
<path d="M568,421.5 L570.5,421.5 L570.5,422.5 L572,422.5 L572,425.5 L570.5,425.5 L570.5,426.7 L568,426.7 Z" fill="#000"/>
<rect x="554.5" y="436.5" width="6" height="6.5" fill="#fff" stroke="#000" stroke-width="1"/>
<rect x="562.8" y="432.5" width="1.7" height="5.5" fill="#fff" stroke="#000" stroke-width="1"/>
<path d="M568,431.5 L570.5,431.5 L570.5,432.5 L572,432.5 L572,435.5 L570.5,435.5 L570.5,436.7 L568,436.7 Z" fill="#000"/>
<rect x="554.5" y="445.5" width="6" height="6.5" fill="#fff" stroke="#000" stroke-width="1"/>
<rect x="562.8" y="441.5" width="1.7" height="5.5" fill="#fff" stroke="#000" stroke-width="1"/>
<path d="M568,440.5 L570.5,440.5 L570.5,441.5 L572,441.5 L572,444.5 L570.5,444.5 L570.5,445.7 L568,445.7 Z" fill="#000"/>
<rect x="554.5" y="455.5" width="6" height="6.5" fill="#fff" stroke="#000" stroke-width="1"/>
<rect x="562.8" y="451.5" width="1.7" height="5.5" fill="#fff" stroke="#000" stroke-width="1"/>
<path d="M568,450.5 L570.5,450.5 L570.5,451.5 L572,451.5 L572,454.5 L570.5,454.5 L570.5,455.7 L568,455.7 Z" fill="#000"/>
<rect x="554.5" y="464.5" width="6" height="6.5" fill="#fff" stroke="#000" stroke-width="1"/>
<rect x="562.8" y="460.5" width="1.7" height="5.5" fill="#fff" stroke="#000" stroke-width="1"/>
<path d="M568,459.5 L570.5,459.5 L570.5,460.5 L572,460.5 L572,463.5 L570.5,463.5 L570.5,464.7 L568,464.7 Z" fill="#000"/>
<rect x="562.8" y="470.5" width="1.7" height="4" fill="#fff" stroke="#000" stroke-width="1"/>
<rect x="567" y="365" width="1.2" height="110" fill="#000"/>
<polygon points="588.26,435.46 585.24,432.54 595.31,423.54 596.89,425.06" fill="#000" shape-rendering="auto"/>
<rect x="555" y="431" width="35" height="18.5" rx="3" fill="#000" shape-rendering="auto"/>
<rect x="557.7" y="433" width="30.3" height="13.9" rx="1.3" fill="#fff" shape-rendering="auto"/>
<line x1="584.67" y1="436.16" x2="590.96" y2="429.63" stroke="#fff" stroke-width="1" shape-rendering="auto"/>
<text transform="scale(0.78,1)" x="721.79 734.87 745.77" y="443.5" font-size="13" fill="#000" stroke="#000" stroke-width="0.25" text-anchor="middle">CN5</text>
<polygon points="26.38,63.65 29.32,66.65 19.27,75.09 17.73,73.51" fill="#000" shape-rendering="auto"/>
<rect x="25" y="49" width="35" height="19" rx="3" fill="#000" shape-rendering="auto"/>
<rect x="27" y="51.6" width="30.2" height="14.4" rx="1.3" fill="#fff" shape-rendering="auto"/>
<line x1="29.99" y1="63.05" x2="23.64" y2="69.27" stroke="#fff" stroke-width="1" shape-rendering="auto"/>
<text transform="scale(0.78,1)" x="42.95 54.49 64.87" y="62.8" font-size="13" fill="#000" stroke="#000" stroke-width="0.25" text-anchor="middle">BAT</text>
<polygon points="71.20,80.54 74.50,83.76 62.37,95.05 60.23,92.95" fill="#000" shape-rendering="auto"/>
<rect x="70" y="67.3" width="40.7" height="17.7" rx="3" fill="#000" shape-rendering="auto"/>
<rect x="72" y="69.3" width="35.9" height="13.1" rx="1.3" fill="#fff" shape-rendering="auto"/>
<line x1="74.94" y1="80.00" x2="67.65" y2="87.48" stroke="#fff" stroke-width="1" shape-rendering="auto"/>
<text transform="scale(0.78,1)" x="97.44 108.72 119.10 128.85" y="79.9" font-size="13" fill="#000" stroke="#000" stroke-width="0.25" text-anchor="middle">JP10</text>
<polygon points="39.50,118.54 38.50,124.46 23.40,119.49 23.60,118.31" fill="#000" shape-rendering="auto"/>
<rect x="38" y="112" width="35.7" height="18.5" rx="3" fill="#000" shape-rendering="auto"/>
<rect x="40" y="114.6" width="30.9" height="13.9" rx="1.3" fill="#fff" shape-rendering="auto"/>
<line x1="41.96" y1="122.00" x2="32.02" y2="120.33" stroke="#fff" stroke-width="1" shape-rendering="auto"/>
<text transform="scale(0.78,1)" x="58.97 71.67 83.21" y="124.6" font-size="13" fill="#000" stroke="#000" stroke-width="0.25" text-anchor="middle">SPK</text>
<polygon points="59.11,144.30 58.89,150.30 41.98,147.30 42.02,146.10" fill="#000" shape-rendering="auto"/>
<rect x="58" y="138.3" width="35" height="18" rx="3" fill="#000" shape-rendering="auto"/>
<rect x="60" y="140.3" width="30.2" height="13.4" rx="1.3" fill="#fff" shape-rendering="auto"/>
<line x1="62.00" y1="147.41" x2="51.35" y2="147.03" stroke="#fff" stroke-width="1" shape-rendering="auto"/>
<text transform="scale(0.78,1)" x="84.36 95.51 107.31" y="150.6" font-size="13" fill="#000" stroke="#000" stroke-width="0.25" text-anchor="middle">RST</text>
<polygon points="30.08,178.86 27.12,181.84 17.72,171.08 19.28,169.52" fill="#000" shape-rendering="auto"/>
<rect x="25.5" y="177" width="34" height="17" rx="3" fill="#000" shape-rendering="auto"/>
<rect x="28.2" y="179" width="29.3" height="12.4" rx="1.3" fill="#fff" shape-rendering="auto"/>
<line x1="30.73" y1="182.47" x2="24.05" y2="175.83" stroke="#fff" stroke-width="1" shape-rendering="auto"/>
<text transform="scale(0.78,1)" x="42.69 55.13 66.28" y="189.4" font-size="13" fill="#000" stroke="#000" stroke-width="0.25" text-anchor="middle">PNL</text>
</svg>
</body></html>
